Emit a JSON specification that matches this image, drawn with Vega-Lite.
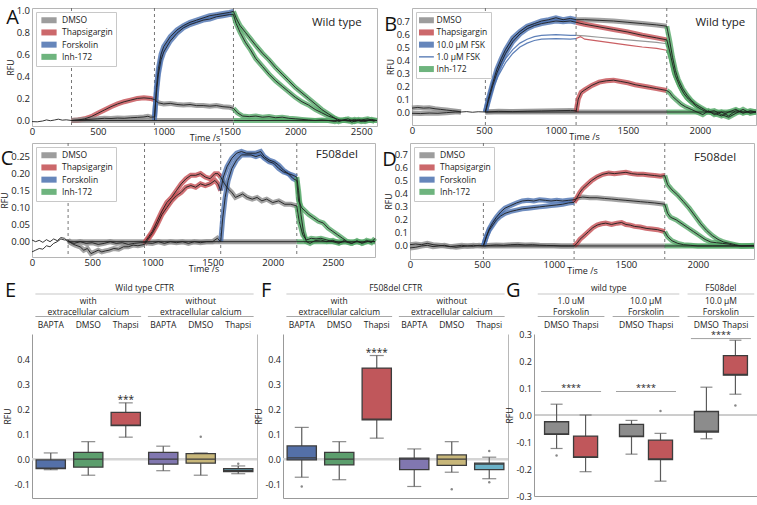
{
"$schema":"https://vega.github.io/schema/vega-lite/v6.json",
"padding":0,
"background":"white",
"config":{
 "font":"Open Sans",
 "view":{"stroke":"#b5b5b5","strokeWidth":1},
 "axis":{"labelFontSize":9.5,"titleFontSize":9,"titleFontWeight":"normal","labelColor":"#222","titleColor":"#222","grid":false,"ticks":false,"domain":false,"labelPadding":2.5},
 "axisY":{"titleFontSize":8.5,"titlePadding":1},
 "axisX":{"labelPadding":0,"titlePadding":-2},
 "legend":{"labelFontSize":8.5,"labelColor":"#222"},
 "title":{"fontWeight":"normal","color":"#111"},
 "text":{"color":"#222"}
},
"datasets":{
"ev":[{"p":"A","t":300},{"p":"A","t":930},{"p":"A","t":1530},{"p":"B","t":510},{"p":"B","t":1140},{"p":"B","t":1770},{"p":"C","t":300},{"p":"C","t":935},{"p":"C","t":1568},{"p":"C","t":2200},{"p":"D","t":510},{"p":"D","t":1140},{"p":"D","t":1770}],
"gen":[{"p":"A","label":"Wild type"},{"p":"B","label":"Wild type"},{"p":"C","label":"F508del"},{"p":"D","label":"F508del"}],
"ts":[
{"p":"A","s":"A0","d":"none","t":0,"v":-0.01},{"p":"A","s":"A0","d":"none","t":40,"v":-0.012},{"p":"A","s":"A0","d":"none","t":80,"v":-0.005},{"p":"A","s":"A0","d":"none","t":110,"v":0.005},{"p":"A","s":"A0","d":"none","t":140,"v":-0.002},{"p":"A","s":"A0","d":"none","t":170,"v":0.004},{"p":"A","s":"A0","d":"none","t":200,"v":0.012},{"p":"A","s":"A0","d":"none","t":230,"v":0.003},{"p":"A","s":"A0","d":"none","t":260,"v":0.006},{"p":"A","s":"A0","d":"none","t":300,"v":0},
{"p":"A","s":"A1","d":"DMSO","t":300,"v":0},{"p":"A","s":"A1","d":"DMSO","t":1530,"v":0},
{"p":"A","s":"A2","d":"Inh-172","t":1530,"v":0},{"p":"A","s":"A2","d":"Inh-172","t":2620,"v":0},
{"p":"A","s":"A3","d":"Thapsigargin","t":300,"v":0},{"p":"A","s":"A3","d":"Thapsigargin","t":350,"v":0.004},{"p":"A","s":"A3","d":"Thapsigargin","t":400,"v":0.015},{"p":"A","s":"A3","d":"Thapsigargin","t":450,"v":0.035},{"p":"A","s":"A3","d":"Thapsigargin","t":500,"v":0.065},{"p":"A","s":"A3","d":"Thapsigargin","t":550,"v":0.095},{"p":"A","s":"A3","d":"Thapsigargin","t":600,"v":0.125},{"p":"A","s":"A3","d":"Thapsigargin","t":650,"v":0.15},{"p":"A","s":"A3","d":"Thapsigargin","t":700,"v":0.17},{"p":"A","s":"A3","d":"Thapsigargin","t":750,"v":0.185},{"p":"A","s":"A3","d":"Thapsigargin","t":800,"v":0.2},{"p":"A","s":"A3","d":"Thapsigargin","t":850,"v":0.205},{"p":"A","s":"A3","d":"Thapsigargin","t":900,"v":0.2},{"p":"A","s":"A3","d":"Thapsigargin","t":930,"v":0.19},
{"p":"A","s":"A4","d":"DMSO","t":930,"v":0.19},{"p":"A","s":"A4","d":"DMSO","t":960,"v":0.16},{"p":"A","s":"A4","d":"DMSO","t":1000,"v":0.15},{"p":"A","s":"A4","d":"DMSO","t":1050,"v":0.155},{"p":"A","s":"A4","d":"DMSO","t":1100,"v":0.145},{"p":"A","s":"A4","d":"DMSO","t":1150,"v":0.14},{"p":"A","s":"A4","d":"DMSO","t":1200,"v":0.145},{"p":"A","s":"A4","d":"DMSO","t":1250,"v":0.135},{"p":"A","s":"A4","d":"DMSO","t":1300,"v":0.135},{"p":"A","s":"A4","d":"DMSO","t":1350,"v":0.13},{"p":"A","s":"A4","d":"DMSO","t":1400,"v":0.135},{"p":"A","s":"A4","d":"DMSO","t":1450,"v":0.125},{"p":"A","s":"A4","d":"DMSO","t":1500,"v":0.12},{"p":"A","s":"A4","d":"DMSO","t":1530,"v":0.11},
{"p":"A","s":"A5","d":"Inh-172","t":1530,"v":0.11},{"p":"A","s":"A5","d":"Inh-172","t":1560,"v":0.07},{"p":"A","s":"A5","d":"Inh-172","t":1600,"v":0.04},{"p":"A","s":"A5","d":"Inh-172","t":1650,"v":0.035},{"p":"A","s":"A5","d":"Inh-172","t":1700,"v":0.04},{"p":"A","s":"A5","d":"Inh-172","t":1750,"v":0.03},{"p":"A","s":"A5","d":"Inh-172","t":1800,"v":0.035},{"p":"A","s":"A5","d":"Inh-172","t":1850,"v":0.025},{"p":"A","s":"A5","d":"Inh-172","t":1900,"v":0.03},{"p":"A","s":"A5","d":"Inh-172","t":1950,"v":0.02},{"p":"A","s":"A5","d":"Inh-172","t":2000,"v":0.015},{"p":"A","s":"A5","d":"Inh-172","t":2050,"v":0.01},{"p":"A","s":"A5","d":"Inh-172","t":2100,"v":0.005},{"p":"A","s":"A5","d":"Inh-172","t":2150,"v":0},{"p":"A","s":"A5","d":"Inh-172","t":2200,"v":0.005},{"p":"A","s":"A5","d":"Inh-172","t":2250,"v":0},{"p":"A","s":"A5","d":"Inh-172","t":2300,"v":-0.01},{"p":"A","s":"A5","d":"Inh-172","t":2350,"v":0.005},{"p":"A","s":"A5","d":"Inh-172","t":2400,"v":-0.005},{"p":"A","s":"A5","d":"Inh-172","t":2450,"v":0.01},{"p":"A","s":"A5","d":"Inh-172","t":2500,"v":-0.01},{"p":"A","s":"A5","d":"Inh-172","t":2550,"v":0.005},{"p":"A","s":"A5","d":"Inh-172","t":2600,"v":-0.005},
{"p":"A","s":"A6","d":"DMSO","t":300,"v":0},{"p":"A","s":"A6","d":"DMSO","t":400,"v":0.008},{"p":"A","s":"A6","d":"DMSO","t":500,"v":0.015},{"p":"A","s":"A6","d":"DMSO","t":550,"v":0.02},{"p":"A","s":"A6","d":"DMSO","t":600,"v":0.018},{"p":"A","s":"A6","d":"DMSO","t":650,"v":0.022},{"p":"A","s":"A6","d":"DMSO","t":700,"v":0.02},{"p":"A","s":"A6","d":"DMSO","t":750,"v":0.025},{"p":"A","s":"A6","d":"DMSO","t":800,"v":0.028},{"p":"A","s":"A6","d":"DMSO","t":850,"v":0.032},{"p":"A","s":"A6","d":"DMSO","t":880,"v":0.038},{"p":"A","s":"A6","d":"DMSO","t":900,"v":0.03},{"p":"A","s":"A6","d":"DMSO","t":930,"v":0.032},
{"p":"A","s":"A7","d":"Forskolin","t":930,"v":0.032},{"p":"A","s":"A7","d":"Forskolin","t":945,"v":0.25},{"p":"A","s":"A7","d":"Forskolin","t":960,"v":0.42},{"p":"A","s":"A7","d":"Forskolin","t":980,"v":0.55},{"p":"A","s":"A7","d":"Forskolin","t":1000,"v":0.62},{"p":"A","s":"A7","d":"Forskolin","t":1050,"v":0.72},{"p":"A","s":"A7","d":"Forskolin","t":1100,"v":0.79},{"p":"A","s":"A7","d":"Forskolin","t":1150,"v":0.84},{"p":"A","s":"A7","d":"Forskolin","t":1200,"v":0.87},{"p":"A","s":"A7","d":"Forskolin","t":1250,"v":0.89},{"p":"A","s":"A7","d":"Forskolin","t":1300,"v":0.91},{"p":"A","s":"A7","d":"Forskolin","t":1350,"v":0.92},{"p":"A","s":"A7","d":"Forskolin","t":1400,"v":0.94},{"p":"A","s":"A7","d":"Forskolin","t":1450,"v":0.95},{"p":"A","s":"A7","d":"Forskolin","t":1500,"v":0.96},{"p":"A","s":"A7","d":"Forskolin","t":1530,"v":0.96},
{"p":"A","s":"A8","d":"Forskolin","t":930,"v":0},{"p":"A","s":"A8","d":"Forskolin","t":945,"v":0.3},{"p":"A","s":"A8","d":"Forskolin","t":960,"v":0.47},{"p":"A","s":"A8","d":"Forskolin","t":980,"v":0.6},{"p":"A","s":"A8","d":"Forskolin","t":1000,"v":0.67},{"p":"A","s":"A8","d":"Forskolin","t":1050,"v":0.76},{"p":"A","s":"A8","d":"Forskolin","t":1100,"v":0.82},{"p":"A","s":"A8","d":"Forskolin","t":1150,"v":0.86},{"p":"A","s":"A8","d":"Forskolin","t":1200,"v":0.89},{"p":"A","s":"A8","d":"Forskolin","t":1250,"v":0.91},{"p":"A","s":"A8","d":"Forskolin","t":1300,"v":0.93},{"p":"A","s":"A8","d":"Forskolin","t":1350,"v":0.95},{"p":"A","s":"A8","d":"Forskolin","t":1400,"v":0.96},{"p":"A","s":"A8","d":"Forskolin","t":1450,"v":0.97},{"p":"A","s":"A8","d":"Forskolin","t":1500,"v":0.98},{"p":"A","s":"A8","d":"Forskolin","t":1530,"v":0.99},
{"p":"A","s":"A9","d":"Inh-172","t":1530,"v":0.99},{"p":"A","s":"A9","d":"Inh-172","t":1550,"v":0.93},{"p":"A","s":"A9","d":"Inh-172","t":1580,"v":0.86},{"p":"A","s":"A9","d":"Inh-172","t":1620,"v":0.8},{"p":"A","s":"A9","d":"Inh-172","t":1660,"v":0.74},{"p":"A","s":"A9","d":"Inh-172","t":1700,"v":0.68},{"p":"A","s":"A9","d":"Inh-172","t":1750,"v":0.61},{"p":"A","s":"A9","d":"Inh-172","t":1800,"v":0.55},{"p":"A","s":"A9","d":"Inh-172","t":1850,"v":0.48},{"p":"A","s":"A9","d":"Inh-172","t":1900,"v":0.42},{"p":"A","s":"A9","d":"Inh-172","t":1950,"v":0.36},{"p":"A","s":"A9","d":"Inh-172","t":2000,"v":0.3},{"p":"A","s":"A9","d":"Inh-172","t":2050,"v":0.25},{"p":"A","s":"A9","d":"Inh-172","t":2100,"v":0.2},{"p":"A","s":"A9","d":"Inh-172","t":2150,"v":0.15},{"p":"A","s":"A9","d":"Inh-172","t":2200,"v":0.1},{"p":"A","s":"A9","d":"Inh-172","t":2250,"v":0.06},{"p":"A","s":"A9","d":"Inh-172","t":2300,"v":0.02},{"p":"A","s":"A9","d":"Inh-172","t":2330,"v":-0.01},{"p":"A","s":"A9","d":"Inh-172","t":2380,"v":0.01},{"p":"A","s":"A9","d":"Inh-172","t":2430,"v":-0.015},{"p":"A","s":"A9","d":"Inh-172","t":2480,"v":0.01},{"p":"A","s":"A9","d":"Inh-172","t":2530,"v":-0.01},{"p":"A","s":"A9","d":"Inh-172","t":2580,"v":0.01},{"p":"A","s":"A9","d":"Inh-172","t":2620,"v":0},
{"p":"A","s":"A10","d":"Inh-172","t":1530,"v":0.96},{"p":"A","s":"A10","d":"Inh-172","t":1550,"v":0.88},{"p":"A","s":"A10","d":"Inh-172","t":1580,"v":0.8},{"p":"A","s":"A10","d":"Inh-172","t":1620,"v":0.71},{"p":"A","s":"A10","d":"Inh-172","t":1660,"v":0.64},{"p":"A","s":"A10","d":"Inh-172","t":1700,"v":0.56},{"p":"A","s":"A10","d":"Inh-172","t":1750,"v":0.49},{"p":"A","s":"A10","d":"Inh-172","t":1800,"v":0.42},{"p":"A","s":"A10","d":"Inh-172","t":1850,"v":0.36},{"p":"A","s":"A10","d":"Inh-172","t":1900,"v":0.31},{"p":"A","s":"A10","d":"Inh-172","t":1950,"v":0.26},{"p":"A","s":"A10","d":"Inh-172","t":2000,"v":0.21},{"p":"A","s":"A10","d":"Inh-172","t":2050,"v":0.17},{"p":"A","s":"A10","d":"Inh-172","t":2100,"v":0.14},{"p":"A","s":"A10","d":"Inh-172","t":2150,"v":0.1},{"p":"A","s":"A10","d":"Inh-172","t":2200,"v":0.07},{"p":"A","s":"A10","d":"Inh-172","t":2250,"v":0.04},{"p":"A","s":"A10","d":"Inh-172","t":2300,"v":0.02},{"p":"A","s":"A10","d":"Inh-172","t":2350,"v":0},{"p":"A","s":"A10","d":"Inh-172","t":2400,"v":0.015},{"p":"A","s":"A10","d":"Inh-172","t":2450,"v":-0.01},{"p":"A","s":"A10","d":"Inh-172","t":2500,"v":0.005},{"p":"A","s":"A10","d":"Inh-172","t":2550,"v":0.015},{"p":"A","s":"A10","d":"Inh-172","t":2600,"v":-0.005},
{"p":"B","s":"B0","d":"DMSO","t":0,"v":0.03},{"p":"B","s":"B0","d":"DMSO","t":40,"v":0.035},{"p":"B","s":"B0","d":"DMSO","t":80,"v":0.03},{"p":"B","s":"B0","d":"DMSO","t":120,"v":0.032},{"p":"B","s":"B0","d":"DMSO","t":160,"v":0.025},{"p":"B","s":"B0","d":"DMSO","t":200,"v":0.02},{"p":"B","s":"B0","d":"DMSO","t":240,"v":0.015},{"p":"B","s":"B0","d":"DMSO","t":280,"v":0.01},{"p":"B","s":"B0","d":"DMSO","t":320,"v":0.005},{"p":"B","s":"B0","d":"DMSO","t":340,"v":0},
{"p":"B","s":"B1","d":"DMSO","t":0,"v":-0.01},{"p":"B","s":"B1","d":"DMSO","t":60,"v":-0.012},{"p":"B","s":"B1","d":"DMSO","t":120,"v":-0.008},{"p":"B","s":"B1","d":"DMSO","t":180,"v":-0.01},{"p":"B","s":"B1","d":"DMSO","t":240,"v":-0.005},{"p":"B","s":"B1","d":"DMSO","t":300,"v":0},{"p":"B","s":"B1","d":"DMSO","t":340,"v":0},
{"p":"B","s":"B2","d":"none","t":340,"v":0},{"p":"B","s":"B2","d":"none","t":380,"v":0.003},{"p":"B","s":"B2","d":"none","t":420,"v":-0.002},{"p":"B","s":"B2","d":"none","t":460,"v":0.002},{"p":"B","s":"B2","d":"none","t":510,"v":0},
{"p":"B","s":"B3","d":"DMSO","t":510,"v":0},{"p":"B","s":"B3","d":"DMSO","t":1770,"v":0},
{"p":"B","s":"B4","d":"Inh-172","t":1770,"v":0},{"p":"B","s":"B4","d":"Inh-172","t":2390,"v":0},
{"p":"B","s":"B5","d":"DMSO","t":510,"v":0},{"p":"B","s":"B5","d":"DMSO","t":600,"v":0.005},{"p":"B","s":"B5","d":"DMSO","t":700,"v":0.003},{"p":"B","s":"B5","d":"DMSO","t":800,"v":0.006},{"p":"B","s":"B5","d":"DMSO","t":900,"v":0.008},{"p":"B","s":"B5","d":"DMSO","t":1000,"v":0.01},{"p":"B","s":"B5","d":"DMSO","t":1100,"v":0.012},{"p":"B","s":"B5","d":"DMSO","t":1140,"v":0.01},
{"p":"B","s":"B6","d":"10.0 µM FSK","t":510,"v":0},{"p":"B","s":"B6","d":"10.0 µM FSK","t":530,"v":0.08},{"p":"B","s":"B6","d":"10.0 µM FSK","t":560,"v":0.2},{"p":"B","s":"B6","d":"10.0 µM FSK","t":590,"v":0.3},{"p":"B","s":"B6","d":"10.0 µM FSK","t":620,"v":0.38},{"p":"B","s":"B6","d":"10.0 µM FSK","t":650,"v":0.45},{"p":"B","s":"B6","d":"10.0 µM FSK","t":700,"v":0.54},{"p":"B","s":"B6","d":"10.0 µM FSK","t":750,"v":0.6},{"p":"B","s":"B6","d":"10.0 µM FSK","t":800,"v":0.64},{"p":"B","s":"B6","d":"10.0 µM FSK","t":850,"v":0.665},{"p":"B","s":"B6","d":"10.0 µM FSK","t":900,"v":0.68},{"p":"B","s":"B6","d":"10.0 µM FSK","t":950,"v":0.69},{"p":"B","s":"B6","d":"10.0 µM FSK","t":1000,"v":0.7},{"p":"B","s":"B6","d":"10.0 µM FSK","t":1050,"v":0.695},{"p":"B","s":"B6","d":"10.0 µM FSK","t":1100,"v":0.7},{"p":"B","s":"B6","d":"10.0 µM FSK","t":1140,"v":0.69},
{"p":"B","s":"B7","d":"10.0 µM FSK","t":510,"v":0},{"p":"B","s":"B7","d":"10.0 µM FSK","t":530,"v":0.1},{"p":"B","s":"B7","d":"10.0 µM FSK","t":560,"v":0.22},{"p":"B","s":"B7","d":"10.0 µM FSK","t":590,"v":0.33},{"p":"B","s":"B7","d":"10.0 µM FSK","t":620,"v":0.41},{"p":"B","s":"B7","d":"10.0 µM FSK","t":650,"v":0.48},{"p":"B","s":"B7","d":"10.0 µM FSK","t":700,"v":0.57},{"p":"B","s":"B7","d":"10.0 µM FSK","t":750,"v":0.62},{"p":"B","s":"B7","d":"10.0 µM FSK","t":800,"v":0.66},{"p":"B","s":"B7","d":"10.0 µM FSK","t":850,"v":0.68},{"p":"B","s":"B7","d":"10.0 µM FSK","t":900,"v":0.7},{"p":"B","s":"B7","d":"10.0 µM FSK","t":950,"v":0.71},{"p":"B","s":"B7","d":"10.0 µM FSK","t":1000,"v":0.725},{"p":"B","s":"B7","d":"10.0 µM FSK","t":1050,"v":0.71},{"p":"B","s":"B7","d":"10.0 µM FSK","t":1100,"v":0.72},{"p":"B","s":"B7","d":"10.0 µM FSK","t":1140,"v":0.71},
{"p":"B","s":"B8","d":"DMSO","t":1140,"v":0.71},{"p":"B","s":"B8","d":"DMSO","t":1200,"v":0.71},{"p":"B","s":"B8","d":"DMSO","t":1300,"v":0.705},{"p":"B","s":"B8","d":"DMSO","t":1400,"v":0.7},{"p":"B","s":"B8","d":"DMSO","t":1500,"v":0.69},{"p":"B","s":"B8","d":"DMSO","t":1600,"v":0.68},{"p":"B","s":"B8","d":"DMSO","t":1700,"v":0.67},{"p":"B","s":"B8","d":"DMSO","t":1770,"v":0.66},
{"p":"B","s":"B9","d":"Thapsigargin","t":1140,"v":0.69},{"p":"B","s":"B9","d":"Thapsigargin","t":1200,"v":0.675},{"p":"B","s":"B9","d":"Thapsigargin","t":1300,"v":0.655},{"p":"B","s":"B9","d":"Thapsigargin","t":1400,"v":0.635},{"p":"B","s":"B9","d":"Thapsigargin","t":1500,"v":0.615},{"p":"B","s":"B9","d":"Thapsigargin","t":1600,"v":0.59},{"p":"B","s":"B9","d":"Thapsigargin","t":1700,"v":0.57},{"p":"B","s":"B9","d":"Thapsigargin","t":1770,"v":0.555},
{"p":"B","s":"B10","d":"Thapsigargin","t":1140,"v":0},{"p":"B","s":"B10","d":"Thapsigargin","t":1155,"v":0.1},{"p":"B","s":"B10","d":"Thapsigargin","t":1175,"v":0.15},{"p":"B","s":"B10","d":"Thapsigargin","t":1200,"v":0.17},{"p":"B","s":"B10","d":"Thapsigargin","t":1250,"v":0.205},{"p":"B","s":"B10","d":"Thapsigargin","t":1300,"v":0.23},{"p":"B","s":"B10","d":"Thapsigargin","t":1350,"v":0.24},{"p":"B","s":"B10","d":"Thapsigargin","t":1400,"v":0.245},{"p":"B","s":"B10","d":"Thapsigargin","t":1450,"v":0.235},{"p":"B","s":"B10","d":"Thapsigargin","t":1500,"v":0.225},{"p":"B","s":"B10","d":"Thapsigargin","t":1550,"v":0.21},{"p":"B","s":"B10","d":"Thapsigargin","t":1600,"v":0.2},{"p":"B","s":"B10","d":"Thapsigargin","t":1650,"v":0.19},{"p":"B","s":"B10","d":"Thapsigargin","t":1700,"v":0.18},{"p":"B","s":"B10","d":"Thapsigargin","t":1770,"v":0.165},
{"p":"B","s":"B11","d":"Inh-172","t":1770,"v":0.66},{"p":"B","s":"B11","d":"Inh-172","t":1790,"v":0.55},{"p":"B","s":"B11","d":"Inh-172","t":1810,"v":0.42},{"p":"B","s":"B11","d":"Inh-172","t":1830,"v":0.32},{"p":"B","s":"B11","d":"Inh-172","t":1850,"v":0.25},{"p":"B","s":"B11","d":"Inh-172","t":1880,"v":0.18},{"p":"B","s":"B11","d":"Inh-172","t":1910,"v":0.13},{"p":"B","s":"B11","d":"Inh-172","t":1940,"v":0.09},{"p":"B","s":"B11","d":"Inh-172","t":1970,"v":0.06},{"p":"B","s":"B11","d":"Inh-172","t":2000,"v":0.04},{"p":"B","s":"B11","d":"Inh-172","t":2030,"v":0.02},{"p":"B","s":"B11","d":"Inh-172","t":2060,"v":0},{"p":"B","s":"B11","d":"Inh-172","t":2100,"v":-0.01},{"p":"B","s":"B11","d":"Inh-172","t":2150,"v":-0.03},{"p":"B","s":"B11","d":"Inh-172","t":2200,"v":0},{"p":"B","s":"B11","d":"Inh-172","t":2250,"v":0.02},{"p":"B","s":"B11","d":"Inh-172","t":2300,"v":-0.01},{"p":"B","s":"B11","d":"Inh-172","t":2350,"v":0.01},{"p":"B","s":"B11","d":"Inh-172","t":2390,"v":0},
{"p":"B","s":"B12","d":"Inh-172","t":1770,"v":0.555},{"p":"B","s":"B12","d":"Inh-172","t":1790,"v":0.47},{"p":"B","s":"B12","d":"Inh-172","t":1810,"v":0.37},{"p":"B","s":"B12","d":"Inh-172","t":1830,"v":0.28},{"p":"B","s":"B12","d":"Inh-172","t":1860,"v":0.2},{"p":"B","s":"B12","d":"Inh-172","t":1890,"v":0.14},{"p":"B","s":"B12","d":"Inh-172","t":1920,"v":0.1},{"p":"B","s":"B12","d":"Inh-172","t":1950,"v":0.07},{"p":"B","s":"B12","d":"Inh-172","t":1980,"v":0.04},{"p":"B","s":"B12","d":"Inh-172","t":2010,"v":0.02},{"p":"B","s":"B12","d":"Inh-172","t":2050,"v":0},{"p":"B","s":"B12","d":"Inh-172","t":2100,"v":0.01},{"p":"B","s":"B12","d":"Inh-172","t":2150,"v":-0.02},{"p":"B","s":"B12","d":"Inh-172","t":2200,"v":-0.04},{"p":"B","s":"B12","d":"Inh-172","t":2250,"v":-0.01},{"p":"B","s":"B12","d":"Inh-172","t":2300,"v":0.02},{"p":"B","s":"B12","d":"Inh-172","t":2350,"v":-0.01},{"p":"B","s":"B12","d":"Inh-172","t":2390,"v":0},
{"p":"B","s":"B13","d":"Inh-172","t":1770,"v":0.165},{"p":"B","s":"B13","d":"Inh-172","t":1790,"v":0.15},{"p":"B","s":"B13","d":"Inh-172","t":1810,"v":0.12},{"p":"B","s":"B13","d":"Inh-172","t":1840,"v":0.09},{"p":"B","s":"B13","d":"Inh-172","t":1870,"v":0.06},{"p":"B","s":"B13","d":"Inh-172","t":1900,"v":0.04},{"p":"B","s":"B13","d":"Inh-172","t":1940,"v":0.02},{"p":"B","s":"B13","d":"Inh-172","t":1980,"v":0},{"p":"B","s":"B13","d":"Inh-172","t":2020,"v":-0.02},{"p":"B","s":"B13","d":"Inh-172","t":2060,"v":0.01},{"p":"B","s":"B13","d":"Inh-172","t":2100,"v":-0.02},{"p":"B","s":"B13","d":"Inh-172","t":2150,"v":0},{"p":"B","s":"B13","d":"Inh-172","t":2200,"v":-0.03},{"p":"B","s":"B13","d":"Inh-172","t":2250,"v":0.01},{"p":"B","s":"B13","d":"Inh-172","t":2300,"v":0},{"p":"B","s":"B13","d":"Inh-172","t":2390,"v":0},
{"p":"B","s":"B14","d":"1.0 µM FSK","f":"1.0","t":510,"v":0},{"p":"B","s":"B14","d":"1.0 µM FSK","f":"1.0","t":540,"v":0.1},{"p":"B","s":"B14","d":"1.0 µM FSK","f":"1.0","t":570,"v":0.2},{"p":"B","s":"B14","d":"1.0 µM FSK","f":"1.0","t":600,"v":0.28},{"p":"B","s":"B14","d":"1.0 µM FSK","f":"1.0","t":650,"v":0.38},{"p":"B","s":"B14","d":"1.0 µM FSK","f":"1.0","t":700,"v":0.45},{"p":"B","s":"B14","d":"1.0 µM FSK","f":"1.0","t":750,"v":0.5},{"p":"B","s":"B14","d":"1.0 µM FSK","f":"1.0","t":800,"v":0.53},{"p":"B","s":"B14","d":"1.0 µM FSK","f":"1.0","t":850,"v":0.55},{"p":"B","s":"B14","d":"1.0 µM FSK","f":"1.0","t":900,"v":0.56},{"p":"B","s":"B14","d":"1.0 µM FSK","f":"1.0","t":1000,"v":0.565},{"p":"B","s":"B14","d":"1.0 µM FSK","f":"1.0","t":1100,"v":0.56},{"p":"B","s":"B14","d":"1.0 µM FSK","f":"1.0","t":1140,"v":0.565},
{"p":"B","s":"B15","d":"1.0 µM FSK","f":"1.0","t":510,"v":0},{"p":"B","s":"B15","d":"1.0 µM FSK","f":"1.0","t":540,"v":0.11},{"p":"B","s":"B15","d":"1.0 µM FSK","f":"1.0","t":570,"v":0.22},{"p":"B","s":"B15","d":"1.0 µM FSK","f":"1.0","t":600,"v":0.31},{"p":"B","s":"B15","d":"1.0 µM FSK","f":"1.0","t":650,"v":0.41},{"p":"B","s":"B15","d":"1.0 µM FSK","f":"1.0","t":700,"v":0.48},{"p":"B","s":"B15","d":"1.0 µM FSK","f":"1.0","t":750,"v":0.53},{"p":"B","s":"B15","d":"1.0 µM FSK","f":"1.0","t":800,"v":0.56},{"p":"B","s":"B15","d":"1.0 µM FSK","f":"1.0","t":850,"v":0.58},{"p":"B","s":"B15","d":"1.0 µM FSK","f":"1.0","t":900,"v":0.59},{"p":"B","s":"B15","d":"1.0 µM FSK","f":"1.0","t":1000,"v":0.595},{"p":"B","s":"B15","d":"1.0 µM FSK","f":"1.0","t":1100,"v":0.59},{"p":"B","s":"B15","d":"1.0 µM FSK","f":"1.0","t":1140,"v":0.59},
{"p":"B","s":"B16","d":"DMSO","f":"1.0","t":1140,"v":0.59},{"p":"B","s":"B16","d":"DMSO","f":"1.0","t":1200,"v":0.585},{"p":"B","s":"B16","d":"DMSO","f":"1.0","t":1300,"v":0.575},{"p":"B","s":"B16","d":"DMSO","f":"1.0","t":1400,"v":0.565},{"p":"B","s":"B16","d":"DMSO","f":"1.0","t":1500,"v":0.555},{"p":"B","s":"B16","d":"DMSO","f":"1.0","t":1600,"v":0.545},{"p":"B","s":"B16","d":"DMSO","f":"1.0","t":1700,"v":0.535},{"p":"B","s":"B16","d":"DMSO","f":"1.0","t":1770,"v":0.525},
{"p":"B","s":"B17","d":"Thapsigargin","f":"1.0","t":1140,"v":0.565},{"p":"B","s":"B17","d":"Thapsigargin","f":"1.0","t":1170,"v":0.58},{"p":"B","s":"B17","d":"Thapsigargin","f":"1.0","t":1200,"v":0.56},{"p":"B","s":"B17","d":"Thapsigargin","f":"1.0","t":1300,"v":0.545},{"p":"B","s":"B17","d":"Thapsigargin","f":"1.0","t":1400,"v":0.53},{"p":"B","s":"B17","d":"Thapsigargin","f":"1.0","t":1500,"v":0.515},{"p":"B","s":"B17","d":"Thapsigargin","f":"1.0","t":1600,"v":0.5},{"p":"B","s":"B17","d":"Thapsigargin","f":"1.0","t":1700,"v":0.49},{"p":"B","s":"B17","d":"Thapsigargin","f":"1.0","t":1770,"v":0.475},
{"p":"B","s":"B18","d":"Inh-172","f":"1.0","t":1770,"v":0.525},{"p":"B","s":"B18","d":"Inh-172","f":"1.0","t":1790,"v":0.44},{"p":"B","s":"B18","d":"Inh-172","f":"1.0","t":1810,"v":0.34},{"p":"B","s":"B18","d":"Inh-172","f":"1.0","t":1840,"v":0.25},{"p":"B","s":"B18","d":"Inh-172","f":"1.0","t":1870,"v":0.18},{"p":"B","s":"B18","d":"Inh-172","f":"1.0","t":1900,"v":0.12},{"p":"B","s":"B18","d":"Inh-172","f":"1.0","t":1940,"v":0.08},{"p":"B","s":"B18","d":"Inh-172","f":"1.0","t":1980,"v":0.04},{"p":"B","s":"B18","d":"Inh-172","f":"1.0","t":2020,"v":0.02},{"p":"B","s":"B18","d":"Inh-172","f":"1.0","t":2060,"v":0},{"p":"B","s":"B18","d":"Inh-172","f":"1.0","t":2110,"v":0.01},{"p":"B","s":"B18","d":"Inh-172","f":"1.0","t":2160,"v":-0.01},{"p":"B","s":"B18","d":"Inh-172","f":"1.0","t":2210,"v":0.01},{"p":"B","s":"B18","d":"Inh-172","f":"1.0","t":2260,"v":-0.01},{"p":"B","s":"B18","d":"Inh-172","f":"1.0","t":2310,"v":0.01},{"p":"B","s":"B18","d":"Inh-172","f":"1.0","t":2390,"v":0},
{"p":"B","s":"B19","d":"Inh-172","f":"1.0","t":1770,"v":0.475},{"p":"B","s":"B19","d":"Inh-172","f":"1.0","t":1790,"v":0.4},{"p":"B","s":"B19","d":"Inh-172","f":"1.0","t":1810,"v":0.3},{"p":"B","s":"B19","d":"Inh-172","f":"1.0","t":1840,"v":0.22},{"p":"B","s":"B19","d":"Inh-172","f":"1.0","t":1870,"v":0.15},{"p":"B","s":"B19","d":"Inh-172","f":"1.0","t":1900,"v":0.1},{"p":"B","s":"B19","d":"Inh-172","f":"1.0","t":1940,"v":0.06},{"p":"B","s":"B19","d":"Inh-172","f":"1.0","t":1980,"v":0.03},{"p":"B","s":"B19","d":"Inh-172","f":"1.0","t":2020,"v":0.01},{"p":"B","s":"B19","d":"Inh-172","f":"1.0","t":2060,"v":0},{"p":"B","s":"B19","d":"Inh-172","f":"1.0","t":2110,"v":-0.01},{"p":"B","s":"B19","d":"Inh-172","f":"1.0","t":2160,"v":0.01},{"p":"B","s":"B19","d":"Inh-172","f":"1.0","t":2210,"v":-0.01},{"p":"B","s":"B19","d":"Inh-172","f":"1.0","t":2260,"v":0.01},{"p":"B","s":"B19","d":"Inh-172","f":"1.0","t":2310,"v":0},{"p":"B","s":"B19","d":"Inh-172","f":"1.0","t":2390,"v":0},
{"p":"C","s":"C0","d":"none","t":0,"v":-0.03},{"p":"C","s":"C0","d":"none","t":30,"v":-0.025},{"p":"C","s":"C0","d":"none","t":60,"v":-0.02},{"p":"C","s":"C0","d":"none","t":90,"v":-0.022},{"p":"C","s":"C0","d":"none","t":120,"v":-0.012},{"p":"C","s":"C0","d":"none","t":150,"v":-0.015},{"p":"C","s":"C0","d":"none","t":180,"v":-0.005},{"p":"C","s":"C0","d":"none","t":210,"v":0},{"p":"C","s":"C0","d":"none","t":240,"v":0.008},{"p":"C","s":"C0","d":"none","t":270,"v":0.005},{"p":"C","s":"C0","d":"none","t":300,"v":0.005},
{"p":"C","s":"C1","d":"none","t":0,"v":0.005},{"p":"C","s":"C1","d":"none","t":30,"v":0},{"p":"C","s":"C1","d":"none","t":60,"v":0.004},{"p":"C","s":"C1","d":"none","t":90,"v":-0.002},{"p":"C","s":"C1","d":"none","t":120,"v":0.006},{"p":"C","s":"C1","d":"none","t":150,"v":0},{"p":"C","s":"C1","d":"none","t":180,"v":0.008},{"p":"C","s":"C1","d":"none","t":210,"v":0.003},{"p":"C","s":"C1","d":"none","t":240,"v":0.012},{"p":"C","s":"C1","d":"none","t":270,"v":0.01},{"p":"C","s":"C1","d":"none","t":300,"v":0},
{"p":"C","s":"C2","d":"DMSO","t":300,"v":0},{"p":"C","s":"C2","d":"DMSO","t":2200,"v":0},
{"p":"C","s":"C3","d":"Inh-172","t":2200,"v":0},{"p":"C","s":"C3","d":"Inh-172","t":2850,"v":0},
{"p":"C","s":"C4","d":"DMSO","t":300,"v":0.005},{"p":"C","s":"C4","d":"DMSO","t":330,"v":-0.005},{"p":"C","s":"C4","d":"DMSO","t":360,"v":-0.01},{"p":"C","s":"C4","d":"DMSO","t":400,"v":-0.015},{"p":"C","s":"C4","d":"DMSO","t":430,"v":-0.025},{"p":"C","s":"C4","d":"DMSO","t":460,"v":-0.02},{"p":"C","s":"C4","d":"DMSO","t":490,"v":-0.035},{"p":"C","s":"C4","d":"DMSO","t":520,"v":-0.03},{"p":"C","s":"C4","d":"DMSO","t":550,"v":-0.025},{"p":"C","s":"C4","d":"DMSO","t":580,"v":-0.03},{"p":"C","s":"C4","d":"DMSO","t":610,"v":-0.027},{"p":"C","s":"C4","d":"DMSO","t":640,"v":-0.025},{"p":"C","s":"C4","d":"DMSO","t":680,"v":-0.02},{"p":"C","s":"C4","d":"DMSO","t":720,"v":-0.022},{"p":"C","s":"C4","d":"DMSO","t":760,"v":-0.015},{"p":"C","s":"C4","d":"DMSO","t":800,"v":-0.015},{"p":"C","s":"C4","d":"DMSO","t":840,"v":-0.01},{"p":"C","s":"C4","d":"DMSO","t":880,"v":-0.012},{"p":"C","s":"C4","d":"DMSO","t":935,"v":-0.008},
{"p":"C","s":"C5","d":"DMSO","t":300,"v":0},{"p":"C","s":"C5","d":"DMSO","t":350,"v":-0.005},{"p":"C","s":"C5","d":"DMSO","t":400,"v":0},{"p":"C","s":"C5","d":"DMSO","t":450,"v":-0.005},{"p":"C","s":"C5","d":"DMSO","t":500,"v":-0.003},{"p":"C","s":"C5","d":"DMSO","t":550,"v":-0.008},{"p":"C","s":"C5","d":"DMSO","t":600,"v":-0.005},{"p":"C","s":"C5","d":"DMSO","t":650,"v":0},{"p":"C","s":"C5","d":"DMSO","t":700,"v":-0.005},{"p":"C","s":"C5","d":"DMSO","t":750,"v":-0.003},{"p":"C","s":"C5","d":"DMSO","t":800,"v":-0.008},{"p":"C","s":"C5","d":"DMSO","t":850,"v":-0.005},{"p":"C","s":"C5","d":"DMSO","t":900,"v":-0.003},{"p":"C","s":"C5","d":"DMSO","t":935,"v":-0.003},
{"p":"C","s":"C6","d":"Thapsigargin","t":935,"v":-0.008},{"p":"C","s":"C6","d":"Thapsigargin","t":970,"v":0.01},{"p":"C","s":"C6","d":"Thapsigargin","t":1000,"v":0.025},{"p":"C","s":"C6","d":"Thapsigargin","t":1040,"v":0.05},{"p":"C","s":"C6","d":"Thapsigargin","t":1080,"v":0.08},{"p":"C","s":"C6","d":"Thapsigargin","t":1120,"v":0.1},{"p":"C","s":"C6","d":"Thapsigargin","t":1160,"v":0.12},{"p":"C","s":"C6","d":"Thapsigargin","t":1200,"v":0.135},{"p":"C","s":"C6","d":"Thapsigargin","t":1240,"v":0.145},{"p":"C","s":"C6","d":"Thapsigargin","t":1280,"v":0.16},{"p":"C","s":"C6","d":"Thapsigargin","t":1320,"v":0.165},{"p":"C","s":"C6","d":"Thapsigargin","t":1360,"v":0.16},{"p":"C","s":"C6","d":"Thapsigargin","t":1400,"v":0.17},{"p":"C","s":"C6","d":"Thapsigargin","t":1440,"v":0.165},{"p":"C","s":"C6","d":"Thapsigargin","t":1480,"v":0.17},{"p":"C","s":"C6","d":"Thapsigargin","t":1520,"v":0.18},{"p":"C","s":"C6","d":"Thapsigargin","t":1545,"v":0.17},{"p":"C","s":"C6","d":"Thapsigargin","t":1568,"v":0.15},
{"p":"C","s":"C7","d":"Thapsigargin","t":935,"v":-0.003},{"p":"C","s":"C7","d":"Thapsigargin","t":970,"v":0.015},{"p":"C","s":"C7","d":"Thapsigargin","t":1000,"v":0.03},{"p":"C","s":"C7","d":"Thapsigargin","t":1040,"v":0.06},{"p":"C","s":"C7","d":"Thapsigargin","t":1080,"v":0.09},{"p":"C","s":"C7","d":"Thapsigargin","t":1120,"v":0.115},{"p":"C","s":"C7","d":"Thapsigargin","t":1160,"v":0.13},{"p":"C","s":"C7","d":"Thapsigargin","t":1200,"v":0.15},{"p":"C","s":"C7","d":"Thapsigargin","t":1240,"v":0.17},{"p":"C","s":"C7","d":"Thapsigargin","t":1280,"v":0.185},{"p":"C","s":"C7","d":"Thapsigargin","t":1320,"v":0.195},{"p":"C","s":"C7","d":"Thapsigargin","t":1360,"v":0.195},{"p":"C","s":"C7","d":"Thapsigargin","t":1400,"v":0.2},{"p":"C","s":"C7","d":"Thapsigargin","t":1440,"v":0.19},{"p":"C","s":"C7","d":"Thapsigargin","t":1480,"v":0.185},{"p":"C","s":"C7","d":"Thapsigargin","t":1520,"v":0.2},{"p":"C","s":"C7","d":"Thapsigargin","t":1545,"v":0.2},{"p":"C","s":"C7","d":"Thapsigargin","t":1568,"v":0.19},
{"p":"C","s":"C8","d":"DMSO","t":1568,"v":0.19},{"p":"C","s":"C8","d":"DMSO","t":1600,"v":0.17},{"p":"C","s":"C8","d":"DMSO","t":1630,"v":0.155},{"p":"C","s":"C8","d":"DMSO","t":1660,"v":0.145},{"p":"C","s":"C8","d":"DMSO","t":1690,"v":0.13},{"p":"C","s":"C8","d":"DMSO","t":1720,"v":0.135},{"p":"C","s":"C8","d":"DMSO","t":1750,"v":0.14},{"p":"C","s":"C8","d":"DMSO","t":1790,"v":0.13},{"p":"C","s":"C8","d":"DMSO","t":1830,"v":0.125},{"p":"C","s":"C8","d":"DMSO","t":1870,"v":0.13},{"p":"C","s":"C8","d":"DMSO","t":1910,"v":0.12},{"p":"C","s":"C8","d":"DMSO","t":1950,"v":0.125},{"p":"C","s":"C8","d":"DMSO","t":2000,"v":0.115},{"p":"C","s":"C8","d":"DMSO","t":2050,"v":0.12},{"p":"C","s":"C8","d":"DMSO","t":2100,"v":0.11},{"p":"C","s":"C8","d":"DMSO","t":2150,"v":0.11},{"p":"C","s":"C8","d":"DMSO","t":2200,"v":0.105},
{"p":"C","s":"C9","d":"DMSO","t":935,"v":-0.003},{"p":"C","s":"C9","d":"DMSO","t":1000,"v":-0.005},{"p":"C","s":"C9","d":"DMSO","t":1050,"v":0},{"p":"C","s":"C9","d":"DMSO","t":1100,"v":-0.005},{"p":"C","s":"C9","d":"DMSO","t":1150,"v":0},{"p":"C","s":"C9","d":"DMSO","t":1200,"v":-0.003},{"p":"C","s":"C9","d":"DMSO","t":1250,"v":0},{"p":"C","s":"C9","d":"DMSO","t":1300,"v":-0.005},{"p":"C","s":"C9","d":"DMSO","t":1350,"v":0},{"p":"C","s":"C9","d":"DMSO","t":1400,"v":-0.003},{"p":"C","s":"C9","d":"DMSO","t":1450,"v":0},{"p":"C","s":"C9","d":"DMSO","t":1500,"v":0},{"p":"C","s":"C9","d":"DMSO","t":1540,"v":0.01},{"p":"C","s":"C9","d":"DMSO","t":1568,"v":0},
{"p":"C","s":"C10","d":"Forskolin","t":1568,"v":0.15},{"p":"C","s":"C10","d":"Forskolin","t":1590,"v":0.19},{"p":"C","s":"C10","d":"Forskolin","t":1620,"v":0.22},{"p":"C","s":"C10","d":"Forskolin","t":1660,"v":0.245},{"p":"C","s":"C10","d":"Forskolin","t":1700,"v":0.26},{"p":"C","s":"C10","d":"Forskolin","t":1740,"v":0.265},{"p":"C","s":"C10","d":"Forskolin","t":1780,"v":0.26},{"p":"C","s":"C10","d":"Forskolin","t":1820,"v":0.26},{"p":"C","s":"C10","d":"Forskolin","t":1860,"v":0.26},{"p":"C","s":"C10","d":"Forskolin","t":1900,"v":0.265},{"p":"C","s":"C10","d":"Forskolin","t":1930,"v":0.25},{"p":"C","s":"C10","d":"Forskolin","t":1970,"v":0.24},{"p":"C","s":"C10","d":"Forskolin","t":2010,"v":0.235},{"p":"C","s":"C10","d":"Forskolin","t":2050,"v":0.225},{"p":"C","s":"C10","d":"Forskolin","t":2090,"v":0.21},{"p":"C","s":"C10","d":"Forskolin","t":2130,"v":0.2},{"p":"C","s":"C10","d":"Forskolin","t":2170,"v":0.195},{"p":"C","s":"C10","d":"Forskolin","t":2200,"v":0.19},
{"p":"C","s":"C11","d":"Forskolin","t":1568,"v":0},{"p":"C","s":"C11","d":"Forskolin","t":1585,"v":0.07},{"p":"C","s":"C11","d":"Forskolin","t":1605,"v":0.13},{"p":"C","s":"C11","d":"Forskolin","t":1630,"v":0.18},{"p":"C","s":"C11","d":"Forskolin","t":1660,"v":0.215},{"p":"C","s":"C11","d":"Forskolin","t":1700,"v":0.24},{"p":"C","s":"C11","d":"Forskolin","t":1740,"v":0.255},{"p":"C","s":"C11","d":"Forskolin","t":1780,"v":0.255},{"p":"C","s":"C11","d":"Forskolin","t":1820,"v":0.255},{"p":"C","s":"C11","d":"Forskolin","t":1860,"v":0.25},{"p":"C","s":"C11","d":"Forskolin","t":1900,"v":0.255},{"p":"C","s":"C11","d":"Forskolin","t":1930,"v":0.245},{"p":"C","s":"C11","d":"Forskolin","t":1970,"v":0.235},{"p":"C","s":"C11","d":"Forskolin","t":2010,"v":0.23},{"p":"C","s":"C11","d":"Forskolin","t":2050,"v":0.215},{"p":"C","s":"C11","d":"Forskolin","t":2090,"v":0.205},{"p":"C","s":"C11","d":"Forskolin","t":2130,"v":0.2},{"p":"C","s":"C11","d":"Forskolin","t":2170,"v":0.185},{"p":"C","s":"C11","d":"Forskolin","t":2200,"v":0.18},
{"p":"C","s":"C12","d":"Inh-172","t":2200,"v":0.19},{"p":"C","s":"C12","d":"Inh-172","t":2215,"v":0.15},{"p":"C","s":"C12","d":"Inh-172","t":2235,"v":0.08},{"p":"C","s":"C12","d":"Inh-172","t":2255,"v":0.03},{"p":"C","s":"C12","d":"Inh-172","t":2280,"v":0},{"p":"C","s":"C12","d":"Inh-172","t":2310,"v":-0.005},{"p":"C","s":"C12","d":"Inh-172","t":2350,"v":0.003},{"p":"C","s":"C12","d":"Inh-172","t":2400,"v":0.005},{"p":"C","s":"C12","d":"Inh-172","t":2450,"v":0},{"p":"C","s":"C12","d":"Inh-172","t":2500,"v":0.004},{"p":"C","s":"C12","d":"Inh-172","t":2550,"v":-0.003},{"p":"C","s":"C12","d":"Inh-172","t":2600,"v":0},{"p":"C","s":"C12","d":"Inh-172","t":2650,"v":-0.005},{"p":"C","s":"C12","d":"Inh-172","t":2700,"v":0},{"p":"C","s":"C12","d":"Inh-172","t":2750,"v":-0.004},{"p":"C","s":"C12","d":"Inh-172","t":2800,"v":0.002},{"p":"C","s":"C12","d":"Inh-172","t":2850,"v":0},
{"p":"C","s":"C13","d":"Inh-172","t":2200,"v":0.18},{"p":"C","s":"C13","d":"Inh-172","t":2215,"v":0.12},{"p":"C","s":"C13","d":"Inh-172","t":2240,"v":0.1},{"p":"C","s":"C13","d":"Inh-172","t":2270,"v":0.09},{"p":"C","s":"C13","d":"Inh-172","t":2300,"v":0.08},{"p":"C","s":"C13","d":"Inh-172","t":2340,"v":0.07},{"p":"C","s":"C13","d":"Inh-172","t":2380,"v":0.06},{"p":"C","s":"C13","d":"Inh-172","t":2420,"v":0.055},{"p":"C","s":"C13","d":"Inh-172","t":2460,"v":0.04},{"p":"C","s":"C13","d":"Inh-172","t":2500,"v":0.03},{"p":"C","s":"C13","d":"Inh-172","t":2540,"v":0.02},{"p":"C","s":"C13","d":"Inh-172","t":2580,"v":0.01},{"p":"C","s":"C13","d":"Inh-172","t":2620,"v":0},{"p":"C","s":"C13","d":"Inh-172","t":2660,"v":-0.005},{"p":"C","s":"C13","d":"Inh-172","t":2700,"v":0.003},{"p":"C","s":"C13","d":"Inh-172","t":2740,"v":-0.005},{"p":"C","s":"C13","d":"Inh-172","t":2780,"v":0.004},{"p":"C","s":"C13","d":"Inh-172","t":2820,"v":-0.003},{"p":"C","s":"C13","d":"Inh-172","t":2850,"v":0.01},
{"p":"C","s":"C14","d":"Inh-172","t":2200,"v":0.105},{"p":"C","s":"C14","d":"Inh-172","t":2220,"v":0.06},{"p":"C","s":"C14","d":"Inh-172","t":2250,"v":0.02},{"p":"C","s":"C14","d":"Inh-172","t":2280,"v":0.005},{"p":"C","s":"C14","d":"Inh-172","t":2320,"v":0.01},{"p":"C","s":"C14","d":"Inh-172","t":2360,"v":0.008},{"p":"C","s":"C14","d":"Inh-172","t":2400,"v":0.01},{"p":"C","s":"C14","d":"Inh-172","t":2450,"v":0.005},{"p":"C","s":"C14","d":"Inh-172","t":2500,"v":0},{"p":"C","s":"C14","d":"Inh-172","t":2550,"v":-0.005},{"p":"C","s":"C14","d":"Inh-172","t":2600,"v":0.005},
{"p":"D","s":"D0","d":"DMSO","t":0,"v":-0.015},{"p":"D","s":"D0","d":"DMSO","t":40,"v":-0.01},{"p":"D","s":"D0","d":"DMSO","t":80,"v":0},{"p":"D","s":"D0","d":"DMSO","t":120,"v":0.005},{"p":"D","s":"D0","d":"DMSO","t":160,"v":-0.005},{"p":"D","s":"D0","d":"DMSO","t":200,"v":0},{"p":"D","s":"D0","d":"DMSO","t":240,"v":0.005},{"p":"D","s":"D0","d":"DMSO","t":280,"v":-0.005},{"p":"D","s":"D0","d":"DMSO","t":320,"v":0},{"p":"D","s":"D0","d":"DMSO","t":360,"v":0.005},{"p":"D","s":"D0","d":"DMSO","t":400,"v":0},{"p":"D","s":"D0","d":"DMSO","t":440,"v":0.005},{"p":"D","s":"D0","d":"DMSO","t":480,"v":0},{"p":"D","s":"D0","d":"DMSO","t":510,"v":0},
{"p":"D","s":"D1","d":"DMSO","t":0,"v":0.01},{"p":"D","s":"D1","d":"DMSO","t":40,"v":0.015},{"p":"D","s":"D1","d":"DMSO","t":80,"v":0.01},{"p":"D","s":"D1","d":"DMSO","t":120,"v":0.02},{"p":"D","s":"D1","d":"DMSO","t":160,"v":0.01},{"p":"D","s":"D1","d":"DMSO","t":200,"v":0.005},{"p":"D","s":"D1","d":"DMSO","t":240,"v":0},{"p":"D","s":"D1","d":"DMSO","t":280,"v":-0.005},{"p":"D","s":"D1","d":"DMSO","t":320,"v":-0.01},{"p":"D","s":"D1","d":"DMSO","t":360,"v":-0.005},{"p":"D","s":"D1","d":"DMSO","t":400,"v":0},{"p":"D","s":"D1","d":"DMSO","t":440,"v":-0.003},{"p":"D","s":"D1","d":"DMSO","t":480,"v":0.005},{"p":"D","s":"D1","d":"DMSO","t":510,"v":0},
{"p":"D","s":"D2","d":"DMSO","t":510,"v":0},{"p":"D","s":"D2","d":"DMSO","t":1770,"v":0},
{"p":"D","s":"D3","d":"Inh-172","t":1770,"v":0},{"p":"D","s":"D3","d":"Inh-172","t":2390,"v":0},
{"p":"D","s":"D4","d":"DMSO","t":510,"v":0},{"p":"D","s":"D4","d":"DMSO","t":560,"v":0.005},{"p":"D","s":"D4","d":"DMSO","t":600,"v":0.008},{"p":"D","s":"D4","d":"DMSO","t":650,"v":0.005},{"p":"D","s":"D4","d":"DMSO","t":700,"v":0.01},{"p":"D","s":"D4","d":"DMSO","t":750,"v":0.012},{"p":"D","s":"D4","d":"DMSO","t":800,"v":0.008},{"p":"D","s":"D4","d":"DMSO","t":850,"v":0.01},{"p":"D","s":"D4","d":"DMSO","t":900,"v":0.006},{"p":"D","s":"D4","d":"DMSO","t":950,"v":0.004},{"p":"D","s":"D4","d":"DMSO","t":1000,"v":0.003},{"p":"D","s":"D4","d":"DMSO","t":1050,"v":0},{"p":"D","s":"D4","d":"DMSO","t":1100,"v":0},{"p":"D","s":"D4","d":"DMSO","t":1140,"v":0},
{"p":"D","s":"D5","d":"Forskolin","t":510,"v":0},{"p":"D","s":"D5","d":"Forskolin","t":530,"v":0.07},{"p":"D","s":"D5","d":"Forskolin","t":550,"v":0.13},{"p":"D","s":"D5","d":"Forskolin","t":575,"v":0.18},{"p":"D","s":"D5","d":"Forskolin","t":600,"v":0.22},{"p":"D","s":"D5","d":"Forskolin","t":630,"v":0.26},{"p":"D","s":"D5","d":"Forskolin","t":660,"v":0.29},{"p":"D","s":"D5","d":"Forskolin","t":700,"v":0.31},{"p":"D","s":"D5","d":"Forskolin","t":740,"v":0.33},{"p":"D","s":"D5","d":"Forskolin","t":780,"v":0.345},{"p":"D","s":"D5","d":"Forskolin","t":820,"v":0.35},{"p":"D","s":"D5","d":"Forskolin","t":860,"v":0.345},{"p":"D","s":"D5","d":"Forskolin","t":900,"v":0.355},{"p":"D","s":"D5","d":"Forskolin","t":940,"v":0.35},{"p":"D","s":"D5","d":"Forskolin","t":980,"v":0.345},{"p":"D","s":"D5","d":"Forskolin","t":1020,"v":0.35},{"p":"D","s":"D5","d":"Forskolin","t":1060,"v":0.345},{"p":"D","s":"D5","d":"Forskolin","t":1100,"v":0.35},{"p":"D","s":"D5","d":"Forskolin","t":1140,"v":0.355},
{"p":"D","s":"D6","d":"Forskolin","t":510,"v":0},{"p":"D","s":"D6","d":"Forskolin","t":530,"v":0.07},{"p":"D","s":"D6","d":"Forskolin","t":550,"v":0.12},{"p":"D","s":"D6","d":"Forskolin","t":575,"v":0.16},{"p":"D","s":"D6","d":"Forskolin","t":600,"v":0.2},{"p":"D","s":"D6","d":"Forskolin","t":630,"v":0.23},{"p":"D","s":"D6","d":"Forskolin","t":660,"v":0.25},{"p":"D","s":"D6","d":"Forskolin","t":700,"v":0.265},{"p":"D","s":"D6","d":"Forskolin","t":740,"v":0.275},{"p":"D","s":"D6","d":"Forskolin","t":780,"v":0.285},{"p":"D","s":"D6","d":"Forskolin","t":820,"v":0.29},{"p":"D","s":"D6","d":"Forskolin","t":860,"v":0.295},{"p":"D","s":"D6","d":"Forskolin","t":900,"v":0.3},{"p":"D","s":"D6","d":"Forskolin","t":940,"v":0.305},{"p":"D","s":"D6","d":"Forskolin","t":980,"v":0.31},{"p":"D","s":"D6","d":"Forskolin","t":1020,"v":0.315},{"p":"D","s":"D6","d":"Forskolin","t":1060,"v":0.32},{"p":"D","s":"D6","d":"Forskolin","t":1100,"v":0.33},{"p":"D","s":"D6","d":"Forskolin","t":1140,"v":0.335},
{"p":"D","s":"D7","d":"DMSO","t":1140,"v":0.355},{"p":"D","s":"D7","d":"DMSO","t":1170,"v":0.37},{"p":"D","s":"D7","d":"DMSO","t":1200,"v":0.375},{"p":"D","s":"D7","d":"DMSO","t":1250,"v":0.37},{"p":"D","s":"D7","d":"DMSO","t":1300,"v":0.37},{"p":"D","s":"D7","d":"DMSO","t":1350,"v":0.365},{"p":"D","s":"D7","d":"DMSO","t":1400,"v":0.36},{"p":"D","s":"D7","d":"DMSO","t":1450,"v":0.355},{"p":"D","s":"D7","d":"DMSO","t":1500,"v":0.35},{"p":"D","s":"D7","d":"DMSO","t":1550,"v":0.345},{"p":"D","s":"D7","d":"DMSO","t":1600,"v":0.34},{"p":"D","s":"D7","d":"DMSO","t":1650,"v":0.335},{"p":"D","s":"D7","d":"DMSO","t":1700,"v":0.33},{"p":"D","s":"D7","d":"DMSO","t":1770,"v":0.32},
{"p":"D","s":"D8","d":"Thapsigargin","t":1140,"v":0.335},{"p":"D","s":"D8","d":"Thapsigargin","t":1160,"v":0.37},{"p":"D","s":"D8","d":"Thapsigargin","t":1180,"v":0.41},{"p":"D","s":"D8","d":"Thapsigargin","t":1200,"v":0.44},{"p":"D","s":"D8","d":"Thapsigargin","t":1230,"v":0.47},{"p":"D","s":"D8","d":"Thapsigargin","t":1260,"v":0.5},{"p":"D","s":"D8","d":"Thapsigargin","t":1300,"v":0.53},{"p":"D","s":"D8","d":"Thapsigargin","t":1340,"v":0.55},{"p":"D","s":"D8","d":"Thapsigargin","t":1380,"v":0.56},{"p":"D","s":"D8","d":"Thapsigargin","t":1420,"v":0.555},{"p":"D","s":"D8","d":"Thapsigargin","t":1460,"v":0.56},{"p":"D","s":"D8","d":"Thapsigargin","t":1500,"v":0.565},{"p":"D","s":"D8","d":"Thapsigargin","t":1540,"v":0.555},{"p":"D","s":"D8","d":"Thapsigargin","t":1580,"v":0.55},{"p":"D","s":"D8","d":"Thapsigargin","t":1620,"v":0.55},{"p":"D","s":"D8","d":"Thapsigargin","t":1660,"v":0.545},{"p":"D","s":"D8","d":"Thapsigargin","t":1700,"v":0.54},{"p":"D","s":"D8","d":"Thapsigargin","t":1740,"v":0.535},{"p":"D","s":"D8","d":"Thapsigargin","t":1770,"v":0.54},
{"p":"D","s":"D9","d":"Thapsigargin","t":1140,"v":0},{"p":"D","s":"D9","d":"Thapsigargin","t":1160,"v":0.02},{"p":"D","s":"D9","d":"Thapsigargin","t":1180,"v":0.05},{"p":"D","s":"D9","d":"Thapsigargin","t":1210,"v":0.08},{"p":"D","s":"D9","d":"Thapsigargin","t":1240,"v":0.11},{"p":"D","s":"D9","d":"Thapsigargin","t":1270,"v":0.14},{"p":"D","s":"D9","d":"Thapsigargin","t":1300,"v":0.16},{"p":"D","s":"D9","d":"Thapsigargin","t":1330,"v":0.17},{"p":"D","s":"D9","d":"Thapsigargin","t":1360,"v":0.175},{"p":"D","s":"D9","d":"Thapsigargin","t":1400,"v":0.165},{"p":"D","s":"D9","d":"Thapsigargin","t":1440,"v":0.175},{"p":"D","s":"D9","d":"Thapsigargin","t":1470,"v":0.18},{"p":"D","s":"D9","d":"Thapsigargin","t":1500,"v":0.165},{"p":"D","s":"D9","d":"Thapsigargin","t":1530,"v":0.16},{"p":"D","s":"D9","d":"Thapsigargin","t":1560,"v":0.15},{"p":"D","s":"D9","d":"Thapsigargin","t":1600,"v":0.145},{"p":"D","s":"D9","d":"Thapsigargin","t":1640,"v":0.135},{"p":"D","s":"D9","d":"Thapsigargin","t":1680,"v":0.13},{"p":"D","s":"D9","d":"Thapsigargin","t":1720,"v":0.125},{"p":"D","s":"D9","d":"Thapsigargin","t":1770,"v":0.11},
{"p":"D","s":"D10","d":"Inh-172","t":1770,"v":0.54},{"p":"D","s":"D10","d":"Inh-172","t":1790,"v":0.47},{"p":"D","s":"D10","d":"Inh-172","t":1820,"v":0.43},{"p":"D","s":"D10","d":"Inh-172","t":1860,"v":0.39},{"p":"D","s":"D10","d":"Inh-172","t":1900,"v":0.34},{"p":"D","s":"D10","d":"Inh-172","t":1940,"v":0.29},{"p":"D","s":"D10","d":"Inh-172","t":1980,"v":0.23},{"p":"D","s":"D10","d":"Inh-172","t":2020,"v":0.17},{"p":"D","s":"D10","d":"Inh-172","t":2060,"v":0.12},{"p":"D","s":"D10","d":"Inh-172","t":2100,"v":0.08},{"p":"D","s":"D10","d":"Inh-172","t":2140,"v":0.05},{"p":"D","s":"D10","d":"Inh-172","t":2180,"v":0.03},{"p":"D","s":"D10","d":"Inh-172","t":2220,"v":0.02},{"p":"D","s":"D10","d":"Inh-172","t":2260,"v":0.01},{"p":"D","s":"D10","d":"Inh-172","t":2300,"v":0},{"p":"D","s":"D10","d":"Inh-172","t":2390,"v":0},
{"p":"D","s":"D11","d":"Inh-172","t":1770,"v":0.32},{"p":"D","s":"D11","d":"Inh-172","t":1790,"v":0.25},{"p":"D","s":"D11","d":"Inh-172","t":1810,"v":0.22},{"p":"D","s":"D11","d":"Inh-172","t":1850,"v":0.2},{"p":"D","s":"D11","d":"Inh-172","t":1890,"v":0.17},{"p":"D","s":"D11","d":"Inh-172","t":1930,"v":0.14},{"p":"D","s":"D11","d":"Inh-172","t":1970,"v":0.11},{"p":"D","s":"D11","d":"Inh-172","t":2010,"v":0.08},{"p":"D","s":"D11","d":"Inh-172","t":2050,"v":0.05},{"p":"D","s":"D11","d":"Inh-172","t":2090,"v":0.03},{"p":"D","s":"D11","d":"Inh-172","t":2130,"v":0.025},{"p":"D","s":"D11","d":"Inh-172","t":2170,"v":0.02},{"p":"D","s":"D11","d":"Inh-172","t":2210,"v":0.015},{"p":"D","s":"D11","d":"Inh-172","t":2250,"v":0.005},{"p":"D","s":"D11","d":"Inh-172","t":2300,"v":0},{"p":"D","s":"D11","d":"Inh-172","t":2390,"v":0.005},
{"p":"D","s":"D12","d":"Inh-172","t":1770,"v":0.11},{"p":"D","s":"D12","d":"Inh-172","t":1790,"v":0.07},{"p":"D","s":"D12","d":"Inh-172","t":1820,"v":0.04},{"p":"D","s":"D12","d":"Inh-172","t":1860,"v":0.02},{"p":"D","s":"D12","d":"Inh-172","t":1900,"v":0.01},{"p":"D","s":"D12","d":"Inh-172","t":1950,"v":0.005},{"p":"D","s":"D12","d":"Inh-172","t":2000,"v":0},{"p":"D","s":"D12","d":"Inh-172","t":2100,"v":0},{"p":"D","s":"D12","d":"Inh-172","t":2390,"v":0}
],
"bx":[
{"p":"E","g":"with","c":"BAPTA","k":"with|BAPTA","lo":-0.042,"q1":-0.038,"med":-0.036,"q3":-0.003,"hi":0.025},
{"p":"E","g":"with","c":"DMSO","k":"with|DMSO","lo":-0.064,"q1":-0.032,"med":0.0,"q3":0.027,"hi":0.07},
{"p":"E","g":"with","c":"Thapsi","k":"with|Thapsi","lo":0.088,"q1":0.134,"med":0.136,"q3":0.187,"hi":0.225,"st":"***"},
{"p":"E","g":"without","c":"BAPTA","k":"without|BAPTA","lo":-0.046,"q1":-0.02,"med":0.0,"q3":0.027,"hi":0.052},
{"p":"E","g":"without","c":"DMSO","k":"without|DMSO","lo":-0.064,"q1":-0.016,"med":0.0,"q3":0.022,"hi":0.025},
{"p":"E","g":"without","c":"Thapsi","k":"without|Thapsi","lo":-0.058,"q1":-0.05,"med":-0.045,"q3":-0.038,"hi":-0.027},
{"p":"F","g":"with","c":"BAPTA","k":"with|BAPTA","lo":-0.072,"q1":-0.003,"med":0.005,"q3":0.053,"hi":0.127},
{"p":"F","g":"with","c":"DMSO","k":"with|DMSO","lo":-0.082,"q1":-0.023,"med":0.0,"q3":0.027,"hi":0.07},
{"p":"F","g":"with","c":"Thapsi","k":"with|Thapsi","lo":0.084,"q1":0.157,"med":0.16,"q3":0.364,"hi":0.414,"st":"****"},
{"p":"F","g":"without","c":"BAPTA","k":"without|BAPTA","lo":-0.109,"q1":-0.042,"med":0.0,"q3":0.004,"hi":0.041},
{"p":"F","g":"without","c":"DMSO","k":"without|DMSO","lo":-0.052,"q1":-0.025,"med":0.0,"q3":0.017,"hi":0.07},
{"p":"F","g":"without","c":"Thapsi","k":"without|Thapsi","lo":-0.078,"q1":-0.042,"med":-0.02,"q3":-0.016,"hi":0.008},
{"p":"G","g":"wt1","c":"DMSO","k":"DMSO","lo":-0.124,"q1":-0.072,"med":-0.07,"q3":-0.025,"hi":0.04},
{"p":"G","g":"wt1","c":"Thapsi","k":"Thapsi","lo":-0.21,"q1":-0.157,"med":-0.155,"q3":-0.078,"hi":0.0},
{"p":"G","g":"wt10","c":"DMSO","k":"DMSO","lo":-0.145,"q1":-0.08,"med":-0.078,"q3":-0.035,"hi":-0.02},
{"p":"G","g":"wt10","c":"Thapsi","k":"Thapsi","lo":-0.245,"q1":-0.165,"med":-0.163,"q3":-0.093,"hi":-0.068},
{"p":"G","g":"F","c":"DMSO","k":"DMSO","lo":-0.088,"q1":-0.063,"med":-0.06,"q3":0.013,"hi":0.103},
{"p":"G","g":"F","c":"Thapsi","k":"Thapsi","lo":0.077,"q1":0.148,"med":0.15,"q3":0.22,"hi":0.277}
],
"ol":[
{"p":"E","g":"without","c":"DMSO","v":0.09},{"p":"E","g":"without","c":"Thapsi","v":-0.018},
{"p":"F","g":"with","c":"BAPTA","v":-0.109},{"p":"F","g":"without","c":"DMSO","v":-0.12},{"p":"F","g":"without","c":"Thapsi","v":0.033},{"p":"F","g":"without","c":"Thapsi","v":-0.092},
{"p":"G","g":"wt1","c":"DMSO","v":-0.15},{"p":"G","g":"wt10","c":"Thapsi","v":0.015},{"p":"G","g":"F","c":"Thapsi","v":0.035}
],
"sig":[{"p":"G","g":"wt1","y":0.087,"label":"****"},{"p":"G","g":"wt10","y":0.087,"label":"****"},{"p":"G","g":"F","y":0.283,"label":"****"}],
"hd":[
{"p":"E","tier":"top","label":"Wild type CFTR","from":"with","to":"without"},
{"p":"E","tier":"sub","label":"with\nextracellular calcium","g":"with"},
{"p":"E","tier":"sub","label":"without\nextracellular calcium","g":"without"},
{"p":"E","tier":"cat","g":"with","c":"BAPTA"},{"p":"E","tier":"cat","g":"with","c":"DMSO"},{"p":"E","tier":"cat","g":"with","c":"Thapsi"},
{"p":"E","tier":"cat","g":"without","c":"BAPTA"},{"p":"E","tier":"cat","g":"without","c":"DMSO"},{"p":"E","tier":"cat","g":"without","c":"Thapsi"},
{"p":"F","tier":"top","label":"F508del CFTR","from":"with","to":"without"},
{"p":"F","tier":"sub","label":"with\nextracellular calcium","g":"with"},
{"p":"F","tier":"sub","label":"without\nextracellular calcium","g":"without"},
{"p":"F","tier":"cat","g":"with","c":"BAPTA"},{"p":"F","tier":"cat","g":"with","c":"DMSO"},{"p":"F","tier":"cat","g":"with","c":"Thapsi"},
{"p":"F","tier":"cat","g":"without","c":"BAPTA"},{"p":"F","tier":"cat","g":"without","c":"DMSO"},{"p":"F","tier":"cat","g":"without","c":"Thapsi"},
{"p":"G","tier":"top","label":"wild type","from":"wt1","to":"wt10"},
{"p":"G","tier":"top","label":"F508del","from":"F","to":"F"},
{"p":"G","tier":"sub","label":"1.0 uM\nForskolin","g":"wt1"},
{"p":"G","tier":"sub","label":"10.0 µM\nForskolin","g":"wt10"},
{"p":"G","tier":"sub","label":"10.0 µM\nForskolin","g":"F"},
{"p":"G","tier":"cat","g":"wt1","c":"DMSO"},{"p":"G","tier":"cat","g":"wt1","c":"Thapsi"},
{"p":"G","tier":"cat","g":"wt10","c":"DMSO"},{"p":"G","tier":"cat","g":"wt10","c":"Thapsi"},
{"p":"G","tier":"cat","g":"F","c":"DMSO"},{"p":"G","tier":"cat","g":"F","c":"Thapsi"}
]
},
"spacing":-5,
"resolve":{"scale":{"x":"independent","y":"independent","color":"independent","xOffset":"independent"},"axis":{"x":"independent","y":"independent"},"legend":{"color":"independent"}},
"vconcat":[
{"hconcat":[
  {"width":345,"height":118,
  "title":{"text":"A","anchor":"start","frame":"bounds","offset":-27,"fontSize":20},
  "resolve":{"axis":{"x":"independent","y":"independent"}},
  "layer":[
   {"data":{"name":"ev"},"transform":[{"filter":"datum.p==='A'"}],"mark":{"type":"rule","strokeDash":[3,3],"color":"#666","strokeWidth":0.9},
    "encoding":{"x":{"field":"t","type":"quantitative","scale":{"domain":[0,2620],"nice":false,"zero":false},"axis":null}}},
   {"data":{"name":"ts"},"transform":[{"filter":"datum.p==='A' && datum.d!=='none'"}],"mark":{"type":"line","strokeWidth":5,"opacity":0.8},
    "encoding":{"x":{"field":"t","type":"quantitative","scale":{"domain":[0,2620],"nice":false,"zero":false},"axis":{"values":[0,500,1000,1500,2000,2500],"format":"d","title":"Time /s","labelFlush":false}},
     "y":{"field":"v","type":"quantitative","scale":{"domain":[-0.05,1.02],"nice":false,"zero":false},"axis":{"values":[0,0.2,0.4,0.6,0.8,1],"format":".1f","title":"RFU"}},
     "color":{"field":"d","type":"nominal","scale":{"domain":["DMSO","Thapsigargin","Forskolin","Inh-172"],"range":["#8c8c8c","#c44e52","#4c72b0","#55a868"]},
      "legend":{"orient":"top-left","offset":4,"title":null,"symbolType":"M-2,0H2","symbolSize":58,"symbolStrokeWidth":6,"symbolOpacity":0.85,"symbolOffset":3,"labelOffset":6,"clipHeight":10.5,"rowPadding":1.2,"padding":3,"strokeColor":"#c8c8c8","fillColor":"#ffffff"}},
     "detail":{"field":"s"}}},
   {"data":{"name":"ts"},"transform":[{"filter":"datum.p==='A'"}],"mark":{"type":"line","strokeWidth":0.9,"color":"#1e1e1e"},
    "encoding":{"x":{"field":"t","type":"quantitative","scale":{"domain":[0,2620],"nice":false,"zero":false},"axis":null},"y":{"field":"v","type":"quantitative","scale":{"domain":[-0.05,1.02],"nice":false,"zero":false},"axis":null},"detail":{"field":"s"}}},
   {"data":{"name":"gen"},"transform":[{"filter":"datum.p==='A'"}],"mark":{"type":"text","align":"right","baseline":"alphabetic","fontSize":11.5},
    "encoding":{"x":{"datum":2504,"type":"quantitative","scale":{"domain":[0,2620],"nice":false,"zero":false},"axis":null},"y":{"datum":0.86,"type":"quantitative","scale":{"domain":[-0.05,1.02],"nice":false,"zero":false},"axis":null},"text":{"field":"label"}}}
  ]},
  {"width":344,"height":117,
  "title":{"text":"B","anchor":"start","frame":"bounds","offset":-27,"dx":-2,"fontSize":20},
  "resolve":{"axis":{"x":"independent","y":"independent"}},
  "layer":[
   {"data":{"name":"ev"},"transform":[{"filter":"datum.p==='B'"}],"mark":{"type":"rule","strokeDash":[3,3],"color":"#666","strokeWidth":0.9},
    "encoding":{"x":{"field":"t","type":"quantitative","scale":{"domain":[0,2390],"nice":false,"zero":false},"axis":null}}},
   {"data":{"name":"ts"},"transform":[{"filter":"datum.p==='B' && datum.f==='1.0'"}],"mark":{"type":"line","strokeWidth":1.2,"opacity":0.9},
    "encoding":{"x":{"field":"t","type":"quantitative","scale":{"domain":[0,2390],"nice":false,"zero":false},"axis":null},
     "y":{"field":"v","type":"quantitative","scale":{"domain":[-0.1,0.8],"nice":false,"zero":false},"axis":null},
     "color":{"field":"d","type":"nominal","scale":{"domain":["DMSO","Thapsigargin","10.0 µM FSK","1.0 µM FSK","Inh-172"],"range":["#8c8c8c","#c44e52","#4c72b0","#4c72b0","#55a868"]},
      "legend":{"orient":"top-left","offset":4,"title":null,"symbolType":"M-2,0H2","symbolSize":58,"symbolStrokeWidth":6,"symbolOpacity":0.85,"symbolOffset":3,"labelOffset":6,"clipHeight":10.5,"rowPadding":1.2,"padding":3,"strokeColor":"#c8c8c8","fillColor":"#ffffff","encode":{"symbols":{"update":{"strokeWidth":{"signal":"datum.value === '1.0 µM FSK' ? 1.5 : 6"}}}}}},
     "detail":{"field":"s"}}},
   {"data":{"name":"ts"},"transform":[{"filter":"datum.p==='B' && datum.d!=='none' && datum.f!=='1.0'"}],"mark":{"type":"line","strokeWidth":5,"opacity":0.8},
    "encoding":{"x":{"field":"t","type":"quantitative","scale":{"domain":[0,2390],"nice":false,"zero":false},"axis":{"values":[0,500,1000,1500,2000],"format":"d","title":"Time /s","labelFlush":false}},
     "y":{"field":"v","type":"quantitative","scale":{"domain":[-0.1,0.8],"nice":false,"zero":false},"axis":{"values":[0,0.1,0.2,0.3,0.4,0.5,0.6,0.7],"format":".1f","title":"RFU"}},
     "color":{"field":"d","type":"nominal","scale":{"domain":["DMSO","Thapsigargin","10.0 µM FSK","1.0 µM FSK","Inh-172"],"range":["#8c8c8c","#c44e52","#4c72b0","#4c72b0","#55a868"]},
      "legend":{"orient":"top-left","offset":4,"title":null,"symbolType":"M-2,0H2","symbolSize":58,"symbolStrokeWidth":6,"symbolOpacity":0.85,"symbolOffset":3,"labelOffset":6,"clipHeight":10.5,"rowPadding":1.2,"padding":3,"strokeColor":"#c8c8c8","fillColor":"#ffffff","encode":{"symbols":{"update":{"strokeWidth":{"signal":"datum.value === '1.0 µM FSK' ? 1.5 : 6"}}}}}},
     "detail":{"field":"s"}}},
   {"data":{"name":"ts"},"transform":[{"filter":"datum.p==='B' && datum.f!=='1.0'"}],"mark":{"type":"line","strokeWidth":0.9,"color":"#1e1e1e"},
    "encoding":{"x":{"field":"t","type":"quantitative","scale":{"domain":[0,2390],"nice":false,"zero":false},"axis":null},"y":{"field":"v","type":"quantitative","scale":{"domain":[-0.1,0.8],"nice":false,"zero":false},"axis":null},"detail":{"field":"s"}}},
   {"data":{"name":"gen"},"transform":[{"filter":"datum.p==='B'"}],"mark":{"type":"text","align":"right","baseline":"alphabetic","fontSize":11.5},
    "encoding":{"x":{"datum":2315,"type":"quantitative","scale":{"domain":[0,2390],"nice":false,"zero":false},"axis":null},"y":{"datum":0.66,"type":"quantitative","scale":{"domain":[-0.1,0.8],"nice":false,"zero":false},"axis":null},"text":{"field":"label"}}}
  ]}
 ],"spacing":35,"bounds":"flush",
 "resolve":{"scale":{"x":"independent","y":"independent","color":"independent","xOffset":"independent"},"axis":{"x":"independent","y":"independent"},"legend":{"color":"independent"}}},
{"spacing":5,
 "resolve":{"scale":{"x":"independent","y":"independent","color":"independent","xOffset":"independent"},"axis":{"x":"independent","y":"independent"},"legend":{"color":"independent"}},
 "vconcat":[
{"hconcat":[
  {"width":343,"height":114,
  "title":{"text":"C","anchor":"start","frame":"bounds","offset":-27,"fontSize":20},
  "resolve":{"axis":{"x":"independent","y":"independent"}},
  "layer":[
   {"data":{"name":"ev"},"transform":[{"filter":"datum.p==='C'"}],"mark":{"type":"rule","strokeDash":[3,3],"color":"#666","strokeWidth":0.9},
    "encoding":{"x":{"field":"t","type":"quantitative","scale":{"domain":[0,2850],"nice":false,"zero":false},"axis":null}}},
   {"data":{"name":"ts"},"transform":[{"filter":"datum.p==='C' && datum.d!=='none'"}],"mark":{"type":"line","strokeWidth":5,"opacity":0.8},
    "encoding":{"x":{"field":"t","type":"quantitative","scale":{"domain":[0,2850],"nice":false,"zero":false},"axis":{"values":[0,500,1000,1500,2000,2500],"format":"d","title":"Time /s","labelFlush":false}},
     "y":{"field":"v","type":"quantitative","scale":{"domain":[-0.045,0.29],"nice":false,"zero":false},"axis":{"values":[0,0.05,0.1,0.15,0.2,0.25],"format":".2f","title":"RFU"}},
     "color":{"field":"d","type":"nominal","scale":{"domain":["DMSO","Thapsigargin","Forskolin","Inh-172"],"range":["#8c8c8c","#c44e52","#4c72b0","#55a868"]},
      "legend":{"orient":"top-left","offset":4,"title":null,"symbolType":"M-2,0H2","symbolSize":58,"symbolStrokeWidth":6,"symbolOpacity":0.85,"symbolOffset":3,"labelOffset":6,"clipHeight":10.5,"rowPadding":1.2,"padding":3,"strokeColor":"#c8c8c8","fillColor":"#ffffff"}},
     "detail":{"field":"s"}}},
   {"data":{"name":"ts"},"transform":[{"filter":"datum.p==='C'"}],"mark":{"type":"line","strokeWidth":0.9,"color":"#1e1e1e"},
    "encoding":{"x":{"field":"t","type":"quantitative","scale":{"domain":[0,2850],"nice":false,"zero":false},"axis":null},"y":{"field":"v","type":"quantitative","scale":{"domain":[-0.045,0.29],"nice":false,"zero":false},"axis":null},"detail":{"field":"s"}}},
   {"data":{"name":"gen"},"transform":[{"filter":"datum.p==='C'"}],"mark":{"type":"text","align":"right","baseline":"alphabetic","fontSize":11.5},
    "encoding":{"x":{"datum":2707,"type":"quantitative","scale":{"domain":[0,2850],"nice":false,"zero":false},"axis":null},"y":{"datum":0.245,"type":"quantitative","scale":{"domain":[-0.045,0.29],"nice":false,"zero":false},"axis":null},"text":{"field":"label"}}}
  ]},
  {"width":344,"height":116,
  "title":{"text":"D","anchor":"start","frame":"bounds","offset":-27,"dx":-2,"fontSize":20},
  "resolve":{"axis":{"x":"independent","y":"independent"}},
  "layer":[
   {"data":{"name":"ev"},"transform":[{"filter":"datum.p==='D'"}],"mark":{"type":"rule","strokeDash":[3,3],"color":"#666","strokeWidth":0.9},
    "encoding":{"x":{"field":"t","type":"quantitative","scale":{"domain":[0,2390],"nice":false,"zero":false},"axis":null}}},
   {"data":{"name":"ts"},"transform":[{"filter":"datum.p==='D' && datum.d!=='none'"}],"mark":{"type":"line","strokeWidth":5,"opacity":0.8},
    "encoding":{"x":{"field":"t","type":"quantitative","scale":{"domain":[0,2390],"nice":false,"zero":false},"axis":{"values":[0,500,1000,1500,2000],"format":"d","title":"Time /s","labelFlush":false}},
     "y":{"field":"v","type":"quantitative","scale":{"domain":[-0.1,0.79],"nice":false,"zero":false},"axis":{"values":[0,0.1,0.2,0.3,0.4,0.5,0.6,0.7],"format":".1f","title":"RFU"}},
     "color":{"field":"d","type":"nominal","scale":{"domain":["DMSO","Thapsigargin","Forskolin","Inh-172"],"range":["#8c8c8c","#c44e52","#4c72b0","#55a868"]},
      "legend":{"orient":"top-left","offset":4,"title":null,"symbolType":"M-2,0H2","symbolSize":58,"symbolStrokeWidth":6,"symbolOpacity":0.85,"symbolOffset":3,"labelOffset":6,"clipHeight":10.5,"rowPadding":1.2,"padding":3,"strokeColor":"#c8c8c8","fillColor":"#ffffff"}},
     "detail":{"field":"s"}}},
   {"data":{"name":"ts"},"transform":[{"filter":"datum.p==='D'"}],"mark":{"type":"line","strokeWidth":0.9,"color":"#1e1e1e"},
    "encoding":{"x":{"field":"t","type":"quantitative","scale":{"domain":[0,2390],"nice":false,"zero":false},"axis":null},"y":{"field":"v","type":"quantitative","scale":{"domain":[-0.1,0.79],"nice":false,"zero":false},"axis":null},"detail":{"field":"s"}}},
   {"data":{"name":"gen"},"transform":[{"filter":"datum.p==='D'"}],"mark":{"type":"text","align":"right","baseline":"alphabetic","fontSize":11.5},
    "encoding":{"x":{"datum":2266,"type":"quantitative","scale":{"domain":[0,2390],"nice":false,"zero":false},"axis":null},"y":{"datum":0.654,"type":"quantitative","scale":{"domain":[-0.1,0.79],"nice":false,"zero":false},"axis":null},"text":{"field":"label"}}}
  ]}
 ],"spacing":35,"bounds":"flush",
 "resolve":{"scale":{"x":"independent","y":"independent","color":"independent","xOffset":"independent"},"axis":{"x":"independent","y":"independent"},"legend":{"color":"independent"}}},
{"spacing":0,
 "resolve":{"scale":{"x":"independent","y":"independent","color":"independent","xOffset":"independent"},"axis":{"x":"independent","y":"independent"},"legend":{"color":"independent"}},
 "vconcat":[
{"hconcat":[
  {"width":225,"height":37,"view":{"stroke":null},
   "title":{"text":"E","anchor":"start","frame":"group","dx":-27,"offset":-17,"fontSize":20},
   "layer":[
    {"data":{"name":"hd"},"transform":[{"filter":"datum.p==='E' && datum.tier==='top'"}],"mark":{"type":"text","fontSize":8.5,"baseline":"middle"},
     "encoding":{"x":{"field":"to","type":"nominal","bandPosition":-0.03,"scale":{"type":"band","domain":["with","without"],"paddingInner":0.06,"paddingOuter":0.03},"axis":null},"y":{"field":"tier","type":"nominal","scale":{"type":"point","domain":["top","sub","cat"],"padding":0},"axis":null},"text":{"field":"label"}}},
    {"data":{"name":"hd"},"transform":[{"filter":"datum.p==='E' && datum.tier==='top'"}],"mark":{"type":"rule","yOffset":6,"color":"#c8c8c8","strokeWidth":1.2},
     "encoding":{"x":{"field":"from","type":"nominal","bandPosition":0,"scale":{"type":"band","domain":["with","without"],"paddingInner":0.06,"paddingOuter":0.03},"axis":null},"x2":{"field":"to","bandPosition":1},"y":{"field":"tier","type":"nominal","scale":{"type":"point","domain":["top","sub","cat"],"padding":0},"axis":null}}},
    {"data":{"name":"hd"},"transform":[{"filter":"datum.p==='E' && datum.tier==='sub'"}],"mark":{"type":"text","fontSize":8.5,"baseline":"middle","lineBreak":"\n","lineHeight":10.5,"dy":-5.5},
     "encoding":{"x":{"field":"g","type":"nominal","scale":{"type":"band","domain":["with","without"],"paddingInner":0.06,"paddingOuter":0.03},"axis":null},"y":{"field":"tier","type":"nominal","scale":{"type":"point","domain":["top","sub","cat"],"padding":0},"axis":null},"text":{"field":"label"}}},
    {"data":{"name":"hd"},"transform":[{"filter":"datum.p==='E' && datum.tier==='sub'"}],"mark":{"type":"rule","yOffset":10,"color":"#a8a8a8","strokeWidth":1},
     "encoding":{"x":{"field":"g","type":"nominal","bandPosition":0,"scale":{"type":"band","domain":["with","without"],"paddingInner":0.06,"paddingOuter":0.03},"axis":null},"x2":{"field":"g","bandPosition":1},"y":{"field":"tier","type":"nominal","scale":{"type":"point","domain":["top","sub","cat"],"padding":0},"axis":null}}},
    {"data":{"name":"hd"},"transform":[{"filter":"datum.p==='E' && datum.tier==='cat'"}],"mark":{"type":"text","fontSize":8.5,"baseline":"middle"},
     "encoding":{"x":{"field":"g","type":"nominal","scale":{"type":"band","domain":["with","without"],"paddingInner":0.06,"paddingOuter":0.03},"axis":null},"xOffset":{"field":"c","type":"nominal","scale":{"type":"band","domain":["BAPTA","DMSO","Thapsi"],"paddingInner":0.22,"paddingOuter":0.02}},"y":{"field":"tier","type":"nominal","scale":{"type":"point","domain":["top","sub","cat"],"padding":0},"axis":null},"text":{"field":"c"}}}
   ]},
  {"width":225,"height":37,"view":{"stroke":null},
   "title":{"text":"F","anchor":"start","frame":"group","dx":-22,"offset":-17,"fontSize":20},
   "layer":[
    {"data":{"name":"hd"},"transform":[{"filter":"datum.p==='F' && datum.tier==='top'"}],"mark":{"type":"text","fontSize":8.5,"baseline":"middle"},
     "encoding":{"x":{"field":"to","type":"nominal","bandPosition":-0.03,"scale":{"type":"band","domain":["with","without"],"paddingInner":0.06,"paddingOuter":0.03},"axis":null},"y":{"field":"tier","type":"nominal","scale":{"type":"point","domain":["top","sub","cat"],"padding":0},"axis":null},"text":{"field":"label"}}},
    {"data":{"name":"hd"},"transform":[{"filter":"datum.p==='F' && datum.tier==='top'"}],"mark":{"type":"rule","yOffset":6,"color":"#c8c8c8","strokeWidth":1.2},
     "encoding":{"x":{"field":"from","type":"nominal","bandPosition":0,"scale":{"type":"band","domain":["with","without"],"paddingInner":0.06,"paddingOuter":0.03},"axis":null},"x2":{"field":"to","bandPosition":1},"y":{"field":"tier","type":"nominal","scale":{"type":"point","domain":["top","sub","cat"],"padding":0},"axis":null}}},
    {"data":{"name":"hd"},"transform":[{"filter":"datum.p==='F' && datum.tier==='sub'"}],"mark":{"type":"text","fontSize":8.5,"baseline":"middle","lineBreak":"\n","lineHeight":10.5,"dy":-5.5},
     "encoding":{"x":{"field":"g","type":"nominal","scale":{"type":"band","domain":["with","without"],"paddingInner":0.06,"paddingOuter":0.03},"axis":null},"y":{"field":"tier","type":"nominal","scale":{"type":"point","domain":["top","sub","cat"],"padding":0},"axis":null},"text":{"field":"label"}}},
    {"data":{"name":"hd"},"transform":[{"filter":"datum.p==='F' && datum.tier==='sub'"}],"mark":{"type":"rule","yOffset":10,"color":"#a8a8a8","strokeWidth":1},
     "encoding":{"x":{"field":"g","type":"nominal","bandPosition":0,"scale":{"type":"band","domain":["with","without"],"paddingInner":0.06,"paddingOuter":0.03},"axis":null},"x2":{"field":"g","bandPosition":1},"y":{"field":"tier","type":"nominal","scale":{"type":"point","domain":["top","sub","cat"],"padding":0},"axis":null}}},
    {"data":{"name":"hd"},"transform":[{"filter":"datum.p==='F' && datum.tier==='cat'"}],"mark":{"type":"text","fontSize":8.5,"baseline":"middle"},
     "encoding":{"x":{"field":"g","type":"nominal","scale":{"type":"band","domain":["with","without"],"paddingInner":0.06,"paddingOuter":0.03},"axis":null},"xOffset":{"field":"c","type":"nominal","scale":{"type":"band","domain":["BAPTA","DMSO","Thapsi"],"paddingInner":0.22,"paddingOuter":0.02}},"y":{"field":"tier","type":"nominal","scale":{"type":"point","domain":["top","sub","cat"],"padding":0},"axis":null},"text":{"field":"c"}}}
   ]},
  {"width":224,"height":37,"view":{"stroke":null},
   "title":{"text":"G","anchor":"start","frame":"group","dx":-28,"offset":-17,"fontSize":20},
   "layer":[
    {"data":{"name":"hd"},"transform":[{"filter":"datum.p==='G' && datum.tier==='top' && datum.from!==datum.to"}],"mark":{"type":"text","fontSize":8.5,"baseline":"middle"},
     "encoding":{"x":{"field":"to","type":"nominal","bandPosition":-0.06,"scale":{"type":"band","domain":["wt1","wt10","F"],"paddingInner":0.11,"paddingOuter":0.05},"axis":null},"y":{"field":"tier","type":"nominal","scale":{"type":"point","domain":["top","sub","cat"],"padding":0},"axis":null},"text":{"field":"label"}}},
    {"data":{"name":"hd"},"transform":[{"filter":"datum.p==='G' && datum.tier==='top' && datum.from===datum.to"}],"mark":{"type":"text","fontSize":8.5,"baseline":"middle"},
     "encoding":{"x":{"field":"from","type":"nominal","scale":{"type":"band","domain":["wt1","wt10","F"],"paddingInner":0.11,"paddingOuter":0.05},"axis":null},"y":{"field":"tier","type":"nominal","scale":{"type":"point","domain":["top","sub","cat"],"padding":0},"axis":null},"text":{"field":"label"}}},
    {"data":{"name":"hd"},"transform":[{"filter":"datum.p==='G' && datum.tier==='top'"}],"mark":{"type":"rule","yOffset":6,"color":"#c8c8c8","strokeWidth":1.2},
     "encoding":{"x":{"field":"from","type":"nominal","bandPosition":0,"scale":{"type":"band","domain":["wt1","wt10","F"],"paddingInner":0.11,"paddingOuter":0.05},"axis":null},"x2":{"field":"to","bandPosition":1},"y":{"field":"tier","type":"nominal","scale":{"type":"point","domain":["top","sub","cat"],"padding":0},"axis":null}}},
    {"data":{"name":"hd"},"transform":[{"filter":"datum.p==='G' && datum.tier==='sub'"}],"mark":{"type":"text","fontSize":8.5,"baseline":"middle","lineBreak":"\n","lineHeight":10.5,"dy":-5.5},
     "encoding":{"x":{"field":"g","type":"nominal","scale":{"type":"band","domain":["wt1","wt10","F"],"paddingInner":0.11,"paddingOuter":0.05},"axis":null},"y":{"field":"tier","type":"nominal","scale":{"type":"point","domain":["top","sub","cat"],"padding":0},"axis":null},"text":{"field":"label"}}},
    {"data":{"name":"hd"},"transform":[{"filter":"datum.p==='G' && datum.tier==='sub'"}],"mark":{"type":"rule","yOffset":10,"color":"#a8a8a8","strokeWidth":1},
     "encoding":{"x":{"field":"g","type":"nominal","bandPosition":0,"scale":{"type":"band","domain":["wt1","wt10","F"],"paddingInner":0.11,"paddingOuter":0.05},"axis":null},"x2":{"field":"g","bandPosition":1},"y":{"field":"tier","type":"nominal","scale":{"type":"point","domain":["top","sub","cat"],"padding":0},"axis":null}}},
    {"data":{"name":"hd"},"transform":[{"filter":"datum.p==='G' && datum.tier==='cat'"}],"mark":{"type":"text","fontSize":8.5,"baseline":"middle"},
     "encoding":{"x":{"field":"g","type":"nominal","scale":{"type":"band","domain":["wt1","wt10","F"],"paddingInner":0.11,"paddingOuter":0.05},"axis":null},"xOffset":{"field":"c","type":"nominal","scale":{"type":"band","domain":["DMSO","Thapsi"],"paddingInner":0.17,"paddingOuter":0.235}},"y":{"field":"tier","type":"nominal","scale":{"type":"point","domain":["top","sub","cat"],"padding":0},"axis":null},"text":{"field":"c"}}}
   ]}
 ],"spacing":26,"bounds":"flush",
 "resolve":{"scale":{"x":"independent","y":"independent","color":"independent","xOffset":"independent"},"axis":{"x":"independent","y":"independent"},"legend":{"color":"independent"}}},
{"hconcat":[
  {"width":225,"height":164,"view":{"stroke":null},
   "resolve":{"axis":{"x":"independent","y":"independent"}},
   "layer":[
    {"data":{"values":[{"z":0}]},"mark":{"type":"rule","color":"#d4d4d4","strokeWidth":2.5},
     "encoding":{"y":{"field":"z","type":"quantitative","scale":{"domain":[-0.155,0.5],"nice":false,"zero":false},"axis":{"orient":"right","labels":false,"ticks":false,"title":null,"domain":true,"domainColor":"#b8b8b8"}}}},
    {"data":{"name":"bx"},"transform":[{"filter":"datum.p==='E'"}],"mark":{"type":"rule","color":"#5a5a5a","strokeWidth":1.2},
     "encoding":{"x":{"field":"g","type":"nominal","scale":{"type":"band","domain":["with","without"],"paddingInner":0.06,"paddingOuter":0.03},"axis":{"orient":"bottom","labels":false,"ticks":false,"title":null,"domain":true,"domainColor":"#999"}},"xOffset":{"field":"c","type":"nominal","scale":{"type":"band","domain":["BAPTA","DMSO","Thapsi"],"paddingInner":0.22,"paddingOuter":0.02}},
      "y":{"field":"lo","type":"quantitative","scale":{"domain":[-0.155,0.5],"nice":false,"zero":false},"axis":{"values":[-0.1,0,0.1,0.2,0.3,0.4],"format":".1f","labelExpr":"replace(datum.label,'−','-')","title":"RFU","labelFontSize":9,"domain":true,"domainColor":"#999"}},"y2":{"field":"hi"}}},
    {"data":{"name":"bx"},"transform":[{"filter":"datum.p==='E'"}],"mark":{"type":"tick","size":14,"thickness":1.2,"color":"#5a5a5a","orient":"horizontal"},
     "encoding":{"x":{"field":"g","type":"nominal","scale":{"type":"band","domain":["with","without"],"paddingInner":0.06,"paddingOuter":0.03},"axis":null},"xOffset":{"field":"c","type":"nominal","scale":{"type":"band","domain":["BAPTA","DMSO","Thapsi"],"paddingInner":0.22,"paddingOuter":0.02}},"y":{"field":"hi","type":"quantitative","scale":{"domain":[-0.155,0.5],"nice":false,"zero":false},"axis":null}}},
    {"data":{"name":"bx"},"transform":[{"filter":"datum.p==='E'"}],"mark":{"type":"tick","size":14,"thickness":1.2,"color":"#5a5a5a","orient":"horizontal"},
     "encoding":{"x":{"field":"g","type":"nominal","scale":{"type":"band","domain":["with","without"],"paddingInner":0.06,"paddingOuter":0.03},"axis":null},"xOffset":{"field":"c","type":"nominal","scale":{"type":"band","domain":["BAPTA","DMSO","Thapsi"],"paddingInner":0.22,"paddingOuter":0.02}},"y":{"field":"lo","type":"quantitative","scale":{"domain":[-0.155,0.5],"nice":false,"zero":false},"axis":null}}},
    {"data":{"name":"bx"},"transform":[{"filter":"datum.p==='E'"}],"mark":{"type":"bar","stroke":"#3c3c3c","strokeWidth":1.3},
     "encoding":{"x":{"field":"g","type":"nominal","scale":{"type":"band","domain":["with","without"],"paddingInner":0.06,"paddingOuter":0.03},"axis":null},"xOffset":{"field":"c","type":"nominal","scale":{"type":"band","domain":["BAPTA","DMSO","Thapsi"],"paddingInner":0.22,"paddingOuter":0.02}},
      "y":{"field":"q1","type":"quantitative","scale":{"domain":[-0.155,0.5],"nice":false,"zero":false},"axis":null},"y2":{"field":"q3"},
      "color":{"field":"k","type":"nominal","scale":{"domain":["with|BAPTA","with|DMSO","with|Thapsi","without|BAPTA","without|DMSO","without|Thapsi"],"range":["#5470a8","#5c9e6d","#c0575b","#8177b0","#c8b77a","#6bb2c8"]},"legend":null}}},
    {"data":{"name":"bx"},"transform":[{"filter":"datum.p==='E'"}],"mark":{"type":"bar","fillOpacity":0,"stroke":"#3c3c3c","strokeWidth":1.3},
     "encoding":{"x":{"field":"g","type":"nominal","scale":{"type":"band","domain":["with","without"],"paddingInner":0.06,"paddingOuter":0.03},"axis":null},"xOffset":{"field":"c","type":"nominal","scale":{"type":"band","domain":["BAPTA","DMSO","Thapsi"],"paddingInner":0.22,"paddingOuter":0.02}},
      "y":{"field":"med","type":"quantitative","scale":{"domain":[-0.155,0.5],"nice":false,"zero":false},"axis":null},"y2":{"field":"med"}}},
    {"data":{"name":"ol"},"transform":[{"filter":"datum.p==='E'"}],"mark":{"type":"circle","size":6,"color":"#888","opacity":1},
     "encoding":{"x":{"field":"g","type":"nominal","scale":{"type":"band","domain":["with","without"],"paddingInner":0.06,"paddingOuter":0.03},"axis":null},"xOffset":{"field":"c","type":"nominal","scale":{"type":"band","domain":["BAPTA","DMSO","Thapsi"],"paddingInner":0.22,"paddingOuter":0.02}},"y":{"field":"v","type":"quantitative","scale":{"domain":[-0.155,0.5],"nice":false,"zero":false},"axis":null}}},
    {"data":{"name":"bx"},"transform":[{"filter":"datum.p==='E' && datum.st"}],"mark":{"type":"text","fontSize":10,"baseline":"bottom","dy":2},
     "encoding":{"x":{"field":"g","type":"nominal","scale":{"type":"band","domain":["with","without"],"paddingInner":0.06,"paddingOuter":0.03},"axis":null},"xOffset":{"field":"c","type":"nominal","scale":{"type":"band","domain":["BAPTA","DMSO","Thapsi"],"paddingInner":0.22,"paddingOuter":0.02}},"y":{"field":"hi","type":"quantitative","scale":{"domain":[-0.155,0.5],"nice":false,"zero":false},"axis":null},"text":{"field":"st"}}}
   ]},
  {"width":225,"height":164,"view":{"stroke":null},
   "resolve":{"axis":{"x":"independent","y":"independent"}},
   "layer":[
    {"data":{"values":[{"z":0}]},"mark":{"type":"rule","color":"#d4d4d4","strokeWidth":2.5},
     "encoding":{"y":{"field":"z","type":"quantitative","scale":{"domain":[-0.155,0.5],"nice":false,"zero":false},"axis":{"orient":"right","labels":false,"ticks":false,"title":null,"domain":true,"domainColor":"#b8b8b8"}}}},
    {"data":{"name":"bx"},"transform":[{"filter":"datum.p==='F'"}],"mark":{"type":"rule","color":"#5a5a5a","strokeWidth":1.2},
     "encoding":{"x":{"field":"g","type":"nominal","scale":{"type":"band","domain":["with","without"],"paddingInner":0.06,"paddingOuter":0.03},"axis":{"orient":"bottom","labels":false,"ticks":false,"title":null,"domain":true,"domainColor":"#999"}},"xOffset":{"field":"c","type":"nominal","scale":{"type":"band","domain":["BAPTA","DMSO","Thapsi"],"paddingInner":0.22,"paddingOuter":0.02}},
      "y":{"field":"lo","type":"quantitative","scale":{"domain":[-0.155,0.5],"nice":false,"zero":false},"axis":{"values":[-0.1,0,0.1,0.2,0.3,0.4],"format":".1f","labelExpr":"replace(datum.label,'−','-')","title":"RFU","labelFontSize":9,"domain":true,"domainColor":"#999"}},"y2":{"field":"hi"}}},
    {"data":{"name":"bx"},"transform":[{"filter":"datum.p==='F'"}],"mark":{"type":"tick","size":14,"thickness":1.2,"color":"#5a5a5a","orient":"horizontal"},
     "encoding":{"x":{"field":"g","type":"nominal","scale":{"type":"band","domain":["with","without"],"paddingInner":0.06,"paddingOuter":0.03},"axis":null},"xOffset":{"field":"c","type":"nominal","scale":{"type":"band","domain":["BAPTA","DMSO","Thapsi"],"paddingInner":0.22,"paddingOuter":0.02}},"y":{"field":"hi","type":"quantitative","scale":{"domain":[-0.155,0.5],"nice":false,"zero":false},"axis":null}}},
    {"data":{"name":"bx"},"transform":[{"filter":"datum.p==='F'"}],"mark":{"type":"tick","size":14,"thickness":1.2,"color":"#5a5a5a","orient":"horizontal"},
     "encoding":{"x":{"field":"g","type":"nominal","scale":{"type":"band","domain":["with","without"],"paddingInner":0.06,"paddingOuter":0.03},"axis":null},"xOffset":{"field":"c","type":"nominal","scale":{"type":"band","domain":["BAPTA","DMSO","Thapsi"],"paddingInner":0.22,"paddingOuter":0.02}},"y":{"field":"lo","type":"quantitative","scale":{"domain":[-0.155,0.5],"nice":false,"zero":false},"axis":null}}},
    {"data":{"name":"bx"},"transform":[{"filter":"datum.p==='F'"}],"mark":{"type":"bar","stroke":"#3c3c3c","strokeWidth":1.3},
     "encoding":{"x":{"field":"g","type":"nominal","scale":{"type":"band","domain":["with","without"],"paddingInner":0.06,"paddingOuter":0.03},"axis":null},"xOffset":{"field":"c","type":"nominal","scale":{"type":"band","domain":["BAPTA","DMSO","Thapsi"],"paddingInner":0.22,"paddingOuter":0.02}},
      "y":{"field":"q1","type":"quantitative","scale":{"domain":[-0.155,0.5],"nice":false,"zero":false},"axis":null},"y2":{"field":"q3"},
      "color":{"field":"k","type":"nominal","scale":{"domain":["with|BAPTA","with|DMSO","with|Thapsi","without|BAPTA","without|DMSO","without|Thapsi"],"range":["#5470a8","#5c9e6d","#c0575b","#8177b0","#c8b77a","#6bb2c8"]},"legend":null}}},
    {"data":{"name":"bx"},"transform":[{"filter":"datum.p==='F'"}],"mark":{"type":"bar","fillOpacity":0,"stroke":"#3c3c3c","strokeWidth":1.3},
     "encoding":{"x":{"field":"g","type":"nominal","scale":{"type":"band","domain":["with","without"],"paddingInner":0.06,"paddingOuter":0.03},"axis":null},"xOffset":{"field":"c","type":"nominal","scale":{"type":"band","domain":["BAPTA","DMSO","Thapsi"],"paddingInner":0.22,"paddingOuter":0.02}},
      "y":{"field":"med","type":"quantitative","scale":{"domain":[-0.155,0.5],"nice":false,"zero":false},"axis":null},"y2":{"field":"med"}}},
    {"data":{"name":"ol"},"transform":[{"filter":"datum.p==='F'"}],"mark":{"type":"circle","size":6,"color":"#888","opacity":1},
     "encoding":{"x":{"field":"g","type":"nominal","scale":{"type":"band","domain":["with","without"],"paddingInner":0.06,"paddingOuter":0.03},"axis":null},"xOffset":{"field":"c","type":"nominal","scale":{"type":"band","domain":["BAPTA","DMSO","Thapsi"],"paddingInner":0.22,"paddingOuter":0.02}},"y":{"field":"v","type":"quantitative","scale":{"domain":[-0.155,0.5],"nice":false,"zero":false},"axis":null}}},
    {"data":{"name":"bx"},"transform":[{"filter":"datum.p==='F' && datum.st"}],"mark":{"type":"text","fontSize":10,"baseline":"bottom","dy":2},
     "encoding":{"x":{"field":"g","type":"nominal","scale":{"type":"band","domain":["with","without"],"paddingInner":0.06,"paddingOuter":0.03},"axis":null},"xOffset":{"field":"c","type":"nominal","scale":{"type":"band","domain":["BAPTA","DMSO","Thapsi"],"paddingInner":0.22,"paddingOuter":0.02}},"y":{"field":"hi","type":"quantitative","scale":{"domain":[-0.155,0.5],"nice":false,"zero":false},"axis":null},"text":{"field":"st"}}}
   ]},
  {"width":224,"height":162,"view":{"stroke":null},
   "resolve":{"axis":{"x":"independent","y":"independent"}},
   "layer":[
    {"data":{"values":[{"z":0}]},"mark":{"type":"rule","color":"#9a9a9a","strokeWidth":1},
     "encoding":{"y":{"field":"z","type":"quantitative","scale":{"domain":[-0.3,0.3],"nice":false,"zero":false},"axis":{"orient":"right","labels":false,"ticks":false,"title":null,"domain":true,"domainColor":"#b8b8b8"}}}},
    {"data":{"name":"sig"},"transform":[{"filter":"datum.p==='G'"}],"mark":{"type":"rule","color":"#a0a0a0","strokeWidth":1},
     "encoding":{"x":{"field":"g","type":"nominal","bandPosition":0.05,"scale":{"type":"band","domain":["wt1","wt10","F"],"paddingInner":0.11,"paddingOuter":0.05},"axis":null},"x2":{"field":"g","bandPosition":0.95},"y":{"field":"y","type":"quantitative","scale":{"domain":[-0.3,0.3],"nice":false,"zero":false},"axis":null}}},
    {"data":{"name":"sig"},"transform":[{"filter":"datum.p==='G'"}],"mark":{"type":"text","fontSize":9,"baseline":"bottom","dy":1},
     "encoding":{"x":{"field":"g","type":"nominal","scale":{"type":"band","domain":["wt1","wt10","F"],"paddingInner":0.11,"paddingOuter":0.05},"axis":null},"y":{"field":"y","type":"quantitative","scale":{"domain":[-0.3,0.3],"nice":false,"zero":false},"axis":null},"text":{"field":"label"}}},
    {"data":{"name":"bx"},"transform":[{"filter":"datum.p==='G'"}],"mark":{"type":"rule","color":"#5a5a5a","strokeWidth":1.2},
     "encoding":{"x":{"field":"g","type":"nominal","scale":{"type":"band","domain":["wt1","wt10","F"],"paddingInner":0.11,"paddingOuter":0.05},"axis":{"orient":"bottom","labels":false,"ticks":false,"title":null,"domain":true,"domainColor":"#999"}},"xOffset":{"field":"c","type":"nominal","scale":{"type":"band","domain":["DMSO","Thapsi"],"paddingInner":0.17,"paddingOuter":0.235}},
      "y":{"field":"lo","type":"quantitative","scale":{"domain":[-0.3,0.3],"nice":false,"zero":false},"axis":{"values":[-0.3,-0.2,-0.1,0,0.1,0.2,0.3],"format":".1f","labelExpr":"replace(datum.label,'−','-')","title":"RFU","labelFontSize":9,"domain":true,"domainColor":"#999"}},"y2":{"field":"hi"}}},
    {"data":{"name":"bx"},"transform":[{"filter":"datum.p==='G'"}],"mark":{"type":"tick","size":12,"thickness":1.2,"color":"#5a5a5a","orient":"horizontal"},
     "encoding":{"x":{"field":"g","type":"nominal","scale":{"type":"band","domain":["wt1","wt10","F"],"paddingInner":0.11,"paddingOuter":0.05},"axis":null},"xOffset":{"field":"c","type":"nominal","scale":{"type":"band","domain":["DMSO","Thapsi"],"paddingInner":0.17,"paddingOuter":0.235}},"y":{"field":"hi","type":"quantitative","scale":{"domain":[-0.3,0.3],"nice":false,"zero":false},"axis":null}}},
    {"data":{"name":"bx"},"transform":[{"filter":"datum.p==='G'"}],"mark":{"type":"tick","size":12,"thickness":1.2,"color":"#5a5a5a","orient":"horizontal"},
     "encoding":{"x":{"field":"g","type":"nominal","scale":{"type":"band","domain":["wt1","wt10","F"],"paddingInner":0.11,"paddingOuter":0.05},"axis":null},"xOffset":{"field":"c","type":"nominal","scale":{"type":"band","domain":["DMSO","Thapsi"],"paddingInner":0.17,"paddingOuter":0.235}},"y":{"field":"lo","type":"quantitative","scale":{"domain":[-0.3,0.3],"nice":false,"zero":false},"axis":null}}},
    {"data":{"name":"bx"},"transform":[{"filter":"datum.p==='G'"}],"mark":{"type":"bar","stroke":"#3c3c3c","strokeWidth":1.3},
     "encoding":{"x":{"field":"g","type":"nominal","scale":{"type":"band","domain":["wt1","wt10","F"],"paddingInner":0.11,"paddingOuter":0.05},"axis":null},"xOffset":{"field":"c","type":"nominal","scale":{"type":"band","domain":["DMSO","Thapsi"],"paddingInner":0.17,"paddingOuter":0.235}},
      "y":{"field":"q1","type":"quantitative","scale":{"domain":[-0.3,0.3],"nice":false,"zero":false},"axis":null},"y2":{"field":"q3"},
      "color":{"field":"k","type":"nominal","scale":{"domain":["DMSO","Thapsi"],"range":["#8c8c8c","#c0575b"]},"legend":null}}},
    {"data":{"name":"bx"},"transform":[{"filter":"datum.p==='G'"}],"mark":{"type":"bar","fillOpacity":0,"stroke":"#3c3c3c","strokeWidth":1.3},
     "encoding":{"x":{"field":"g","type":"nominal","scale":{"type":"band","domain":["wt1","wt10","F"],"paddingInner":0.11,"paddingOuter":0.05},"axis":null},"xOffset":{"field":"c","type":"nominal","scale":{"type":"band","domain":["DMSO","Thapsi"],"paddingInner":0.17,"paddingOuter":0.235}},
      "y":{"field":"med","type":"quantitative","scale":{"domain":[-0.3,0.3],"nice":false,"zero":false},"axis":null},"y2":{"field":"med"}}},
    {"data":{"name":"ol"},"transform":[{"filter":"datum.p==='G'"}],"mark":{"type":"circle","size":6,"color":"#888","opacity":1},
     "encoding":{"x":{"field":"g","type":"nominal","scale":{"type":"band","domain":["wt1","wt10","F"],"paddingInner":0.11,"paddingOuter":0.05},"axis":null},"xOffset":{"field":"c","type":"nominal","scale":{"type":"band","domain":["DMSO","Thapsi"],"paddingInner":0.17,"paddingOuter":0.235}},"y":{"field":"v","type":"quantitative","scale":{"domain":[-0.3,0.3],"nice":false,"zero":false},"axis":null}}}
   ]}
 ],"spacing":26,"bounds":"flush",
 "resolve":{"scale":{"x":"independent","y":"independent","color":"independent","xOffset":"independent"},"axis":{"x":"independent","y":"independent"},"legend":{"color":"independent"}}}
 ]}
 ]}
]
}
